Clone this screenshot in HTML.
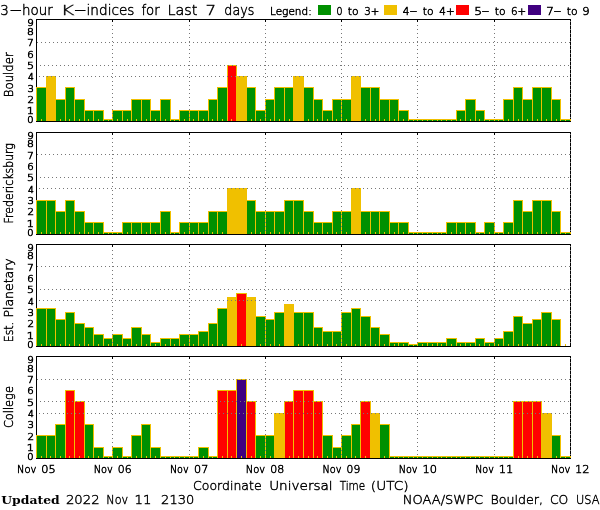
<!DOCTYPE html>
<html lang="en"><head><meta charset="utf-8"><title>3-hour K-indices for Last 7 days</title>
<style>html,body{margin:0;padding:0;background:#fff}svg{display:block}text{font-family:"DejaVu Sans Light","Liberation Sans",sans-serif;fill:#000;stroke:#000;stroke-width:.45px;white-space:pre}.t{font-size:13.7px}.m{font-size:12.8px}.s{font-size:8.2px;stroke-width:.55px}.l{font-size:10.3px;stroke-width:.5px}.x{font-size:10.5px;stroke-width:.5px}.y{font-size:12.6px}.u{font-family:"DejaVu Serif","Liberation Serif",serif;font-weight:bold;font-size:11.2px;stroke:none}</style></head><body>
<svg width="600" height="510" viewBox="0 0 600 510">
<rect width="600" height="510" fill="#fff"/>
<rect x="318" y="5" width="13" height="10" fill="#009000" shape-rendering="crispEdges"/>
<rect x="384" y="5" width="13" height="10" fill="#F0C000" shape-rendering="crispEdges"/>
<rect x="456" y="5" width="13" height="10" fill="#FF0000" shape-rendering="crispEdges"/>
<rect x="528" y="5" width="13" height="10" fill="#400080" shape-rendering="crispEdges"/>
<g shape-rendering="crispEdges"><rect x="36" y="19" width="1" height="103" fill="#000"/><rect x="36" y="19" width="535" height="1" fill="#000"/><rect x="570" y="19" width="1" height="103" fill="#000"/><rect x="36" y="87" width="11" height="34" fill="#F0C000"/><rect x="37" y="88" width="9" height="33" fill="#009000"/><rect x="41" y="119" width="1" height="2" fill="#F0C000"/><rect x="46" y="76" width="10" height="45" fill="#F0C000"/><rect x="47" y="77" width="8" height="44" fill="#F0C000"/><rect x="50" y="119" width="1" height="2" fill="#F0C000"/><rect x="55" y="99" width="11" height="22" fill="#F0C000"/><rect x="56" y="100" width="9" height="21" fill="#009000"/><rect x="60" y="119" width="1" height="2" fill="#F0C000"/><rect x="65" y="87" width="10" height="34" fill="#F0C000"/><rect x="66" y="88" width="8" height="33" fill="#009000"/><rect x="69" y="119" width="1" height="2" fill="#F0C000"/><rect x="74" y="99" width="11" height="22" fill="#F0C000"/><rect x="75" y="100" width="9" height="21" fill="#009000"/><rect x="79" y="119" width="1" height="2" fill="#F0C000"/><rect x="84" y="110" width="10" height="11" fill="#F0C000"/><rect x="85" y="111" width="8" height="10" fill="#009000"/><rect x="88" y="119" width="1" height="2" fill="#F0C000"/><rect x="93" y="110" width="11" height="11" fill="#F0C000"/><rect x="94" y="111" width="9" height="10" fill="#009000"/><rect x="98" y="119" width="1" height="2" fill="#F0C000"/><rect x="103" y="119" width="10" height="2" fill="#F0C000"/><rect x="104" y="120" width="8" height="1" fill="#009000"/><rect x="108" y="119" width="1" height="2" fill="#F0C000"/><rect x="112" y="110" width="11" height="11" fill="#F0C000"/><rect x="113" y="111" width="9" height="10" fill="#009000"/><rect x="117" y="119" width="1" height="2" fill="#F0C000"/><rect x="122" y="110" width="10" height="11" fill="#F0C000"/><rect x="123" y="111" width="8" height="10" fill="#009000"/><rect x="127" y="119" width="1" height="2" fill="#F0C000"/><rect x="131" y="99" width="11" height="22" fill="#F0C000"/><rect x="132" y="100" width="9" height="21" fill="#009000"/><rect x="136" y="119" width="1" height="2" fill="#F0C000"/><rect x="141" y="99" width="10" height="22" fill="#F0C000"/><rect x="142" y="100" width="8" height="21" fill="#009000"/><rect x="146" y="119" width="1" height="2" fill="#F0C000"/><rect x="150" y="110" width="11" height="11" fill="#F0C000"/><rect x="151" y="111" width="9" height="10" fill="#009000"/><rect x="155" y="119" width="1" height="2" fill="#F0C000"/><rect x="160" y="99" width="11" height="22" fill="#F0C000"/><rect x="161" y="100" width="9" height="21" fill="#009000"/><rect x="165" y="119" width="1" height="2" fill="#F0C000"/><rect x="170" y="119" width="10" height="2" fill="#F0C000"/><rect x="171" y="120" width="8" height="1" fill="#009000"/><rect x="174" y="119" width="1" height="2" fill="#F0C000"/><rect x="179" y="110" width="11" height="11" fill="#F0C000"/><rect x="180" y="111" width="9" height="10" fill="#009000"/><rect x="184" y="119" width="1" height="2" fill="#F0C000"/><rect x="189" y="110" width="10" height="11" fill="#F0C000"/><rect x="190" y="111" width="8" height="10" fill="#009000"/><rect x="193" y="119" width="1" height="2" fill="#F0C000"/><rect x="198" y="110" width="11" height="11" fill="#F0C000"/><rect x="199" y="111" width="9" height="10" fill="#009000"/><rect x="203" y="119" width="1" height="2" fill="#F0C000"/><rect x="208" y="99" width="10" height="22" fill="#F0C000"/><rect x="209" y="100" width="8" height="21" fill="#009000"/><rect x="212" y="119" width="1" height="2" fill="#F0C000"/><rect x="217" y="87" width="11" height="34" fill="#F0C000"/><rect x="218" y="88" width="9" height="33" fill="#009000"/><rect x="222" y="119" width="1" height="2" fill="#F0C000"/><rect x="227" y="65" width="10" height="56" fill="#F0C000"/><rect x="228" y="66" width="8" height="55" fill="#FF0000"/><rect x="231" y="119" width="1" height="2" fill="#F0C000"/><rect x="236" y="76" width="11" height="45" fill="#F0C000"/><rect x="237" y="77" width="9" height="44" fill="#F0C000"/><rect x="241" y="119" width="1" height="2" fill="#F0C000"/><rect x="246" y="87" width="10" height="34" fill="#F0C000"/><rect x="247" y="88" width="8" height="33" fill="#009000"/><rect x="251" y="119" width="1" height="2" fill="#F0C000"/><rect x="255" y="110" width="11" height="11" fill="#F0C000"/><rect x="256" y="111" width="9" height="10" fill="#009000"/><rect x="260" y="119" width="1" height="2" fill="#F0C000"/><rect x="265" y="99" width="10" height="22" fill="#F0C000"/><rect x="266" y="100" width="8" height="21" fill="#009000"/><rect x="270" y="119" width="1" height="2" fill="#F0C000"/><rect x="274" y="87" width="11" height="34" fill="#F0C000"/><rect x="275" y="88" width="9" height="33" fill="#009000"/><rect x="279" y="119" width="1" height="2" fill="#F0C000"/><rect x="284" y="87" width="10" height="34" fill="#F0C000"/><rect x="285" y="88" width="8" height="33" fill="#009000"/><rect x="289" y="119" width="1" height="2" fill="#F0C000"/><rect x="293" y="76" width="11" height="45" fill="#F0C000"/><rect x="294" y="77" width="9" height="44" fill="#F0C000"/><rect x="298" y="119" width="1" height="2" fill="#F0C000"/><rect x="303" y="87" width="11" height="34" fill="#F0C000"/><rect x="304" y="88" width="9" height="33" fill="#009000"/><rect x="308" y="119" width="1" height="2" fill="#F0C000"/><rect x="313" y="99" width="10" height="22" fill="#F0C000"/><rect x="314" y="100" width="8" height="21" fill="#009000"/><rect x="317" y="119" width="1" height="2" fill="#F0C000"/><rect x="322" y="110" width="11" height="11" fill="#F0C000"/><rect x="323" y="111" width="9" height="10" fill="#009000"/><rect x="327" y="119" width="1" height="2" fill="#F0C000"/><rect x="332" y="99" width="10" height="22" fill="#F0C000"/><rect x="333" y="100" width="8" height="21" fill="#009000"/><rect x="336" y="119" width="1" height="2" fill="#F0C000"/><rect x="341" y="99" width="11" height="22" fill="#F0C000"/><rect x="342" y="100" width="9" height="21" fill="#009000"/><rect x="346" y="119" width="1" height="2" fill="#F0C000"/><rect x="351" y="76" width="10" height="45" fill="#F0C000"/><rect x="352" y="77" width="8" height="44" fill="#F0C000"/><rect x="355" y="119" width="1" height="2" fill="#F0C000"/><rect x="360" y="87" width="11" height="34" fill="#F0C000"/><rect x="361" y="88" width="9" height="33" fill="#009000"/><rect x="365" y="119" width="1" height="2" fill="#F0C000"/><rect x="370" y="87" width="10" height="34" fill="#F0C000"/><rect x="371" y="88" width="8" height="33" fill="#009000"/><rect x="375" y="119" width="1" height="2" fill="#F0C000"/><rect x="379" y="99" width="11" height="22" fill="#F0C000"/><rect x="380" y="100" width="9" height="21" fill="#009000"/><rect x="384" y="119" width="1" height="2" fill="#F0C000"/><rect x="389" y="99" width="10" height="22" fill="#F0C000"/><rect x="390" y="100" width="8" height="21" fill="#009000"/><rect x="394" y="119" width="1" height="2" fill="#F0C000"/><rect x="398" y="110" width="11" height="11" fill="#F0C000"/><rect x="399" y="111" width="9" height="10" fill="#009000"/><rect x="403" y="119" width="1" height="2" fill="#F0C000"/><rect x="408" y="119" width="10" height="2" fill="#F0C000"/><rect x="409" y="120" width="8" height="1" fill="#009000"/><rect x="413" y="119" width="1" height="2" fill="#F0C000"/><rect x="417" y="119" width="11" height="2" fill="#F0C000"/><rect x="418" y="120" width="9" height="1" fill="#009000"/><rect x="422" y="119" width="1" height="2" fill="#F0C000"/><rect x="427" y="119" width="11" height="2" fill="#F0C000"/><rect x="428" y="120" width="9" height="1" fill="#009000"/><rect x="432" y="119" width="1" height="2" fill="#F0C000"/><rect x="437" y="119" width="10" height="2" fill="#F0C000"/><rect x="438" y="120" width="8" height="1" fill="#009000"/><rect x="441" y="119" width="1" height="2" fill="#F0C000"/><rect x="446" y="119" width="11" height="2" fill="#F0C000"/><rect x="447" y="120" width="9" height="1" fill="#009000"/><rect x="451" y="119" width="1" height="2" fill="#F0C000"/><rect x="456" y="110" width="10" height="11" fill="#F0C000"/><rect x="457" y="111" width="8" height="10" fill="#009000"/><rect x="460" y="119" width="1" height="2" fill="#F0C000"/><rect x="465" y="99" width="11" height="22" fill="#F0C000"/><rect x="466" y="100" width="9" height="21" fill="#009000"/><rect x="470" y="119" width="1" height="2" fill="#F0C000"/><rect x="475" y="110" width="10" height="11" fill="#F0C000"/><rect x="476" y="111" width="8" height="10" fill="#009000"/><rect x="479" y="119" width="1" height="2" fill="#F0C000"/><rect x="484" y="119" width="11" height="2" fill="#F0C000"/><rect x="485" y="120" width="9" height="1" fill="#009000"/><rect x="489" y="119" width="1" height="2" fill="#F0C000"/><rect x="494" y="119" width="10" height="2" fill="#F0C000"/><rect x="495" y="120" width="8" height="1" fill="#009000"/><rect x="498" y="119" width="1" height="2" fill="#F0C000"/><rect x="503" y="99" width="11" height="22" fill="#F0C000"/><rect x="504" y="100" width="9" height="21" fill="#009000"/><rect x="508" y="119" width="1" height="2" fill="#F0C000"/><rect x="513" y="87" width="10" height="34" fill="#F0C000"/><rect x="514" y="88" width="8" height="33" fill="#009000"/><rect x="518" y="119" width="1" height="2" fill="#F0C000"/><rect x="522" y="99" width="11" height="22" fill="#F0C000"/><rect x="523" y="100" width="9" height="21" fill="#009000"/><rect x="527" y="119" width="1" height="2" fill="#F0C000"/><rect x="532" y="87" width="10" height="34" fill="#F0C000"/><rect x="533" y="88" width="8" height="33" fill="#009000"/><rect x="537" y="119" width="1" height="2" fill="#F0C000"/><rect x="541" y="87" width="11" height="34" fill="#F0C000"/><rect x="542" y="88" width="9" height="33" fill="#009000"/><rect x="546" y="119" width="1" height="2" fill="#F0C000"/><rect x="551" y="99" width="10" height="22" fill="#F0C000"/><rect x="552" y="100" width="8" height="21" fill="#009000"/><rect x="556" y="119" width="1" height="2" fill="#F0C000"/><rect x="560" y="119" width="11" height="2" fill="#F0C000"/><rect x="561" y="120" width="9" height="1" fill="#009000"/><rect x="565" y="119" width="1" height="2" fill="#F0C000"/><rect x="36" y="121" width="535" height="1" fill="#000"/><path d="M37 42h1v1h-1zM41 42h1v1h-1zM45 42h1v1h-1zM49 42h1v1h-1zM53 42h1v1h-1zM57 42h1v1h-1zM61 42h1v1h-1zM65 42h1v1h-1zM69 42h1v1h-1zM73 42h1v1h-1zM77 42h1v1h-1zM81 42h1v1h-1zM85 42h1v1h-1zM89 42h1v1h-1zM93 42h1v1h-1zM97 42h1v1h-1zM101 42h1v1h-1zM105 42h1v1h-1zM109 42h1v1h-1zM113 42h1v1h-1zM117 42h1v1h-1zM121 42h1v1h-1zM125 42h1v1h-1zM129 42h1v1h-1zM133 42h1v1h-1zM137 42h1v1h-1zM141 42h1v1h-1zM145 42h1v1h-1zM149 42h1v1h-1zM153 42h1v1h-1zM157 42h1v1h-1zM161 42h1v1h-1zM165 42h1v1h-1zM169 42h1v1h-1zM173 42h1v1h-1zM177 42h1v1h-1zM181 42h1v1h-1zM185 42h1v1h-1zM189 42h1v1h-1zM193 42h1v1h-1zM197 42h1v1h-1zM201 42h1v1h-1zM205 42h1v1h-1zM209 42h1v1h-1zM213 42h1v1h-1zM217 42h1v1h-1zM221 42h1v1h-1zM225 42h1v1h-1zM229 42h1v1h-1zM233 42h1v1h-1zM237 42h1v1h-1zM241 42h1v1h-1zM245 42h1v1h-1zM249 42h1v1h-1zM253 42h1v1h-1zM257 42h1v1h-1zM261 42h1v1h-1zM265 42h1v1h-1zM269 42h1v1h-1zM273 42h1v1h-1zM277 42h1v1h-1zM281 42h1v1h-1zM285 42h1v1h-1zM289 42h1v1h-1zM293 42h1v1h-1zM297 42h1v1h-1zM301 42h1v1h-1zM305 42h1v1h-1zM309 42h1v1h-1zM313 42h1v1h-1zM317 42h1v1h-1zM321 42h1v1h-1zM325 42h1v1h-1zM329 42h1v1h-1zM333 42h1v1h-1zM337 42h1v1h-1zM341 42h1v1h-1zM345 42h1v1h-1zM349 42h1v1h-1zM353 42h1v1h-1zM357 42h1v1h-1zM361 42h1v1h-1zM365 42h1v1h-1zM369 42h1v1h-1zM373 42h1v1h-1zM377 42h1v1h-1zM381 42h1v1h-1zM385 42h1v1h-1zM389 42h1v1h-1zM393 42h1v1h-1zM397 42h1v1h-1zM401 42h1v1h-1zM405 42h1v1h-1zM409 42h1v1h-1zM413 42h1v1h-1zM417 42h1v1h-1zM421 42h1v1h-1zM425 42h1v1h-1zM429 42h1v1h-1zM433 42h1v1h-1zM437 42h1v1h-1zM441 42h1v1h-1zM445 42h1v1h-1zM449 42h1v1h-1zM453 42h1v1h-1zM457 42h1v1h-1zM461 42h1v1h-1zM465 42h1v1h-1zM469 42h1v1h-1zM473 42h1v1h-1zM477 42h1v1h-1zM481 42h1v1h-1zM485 42h1v1h-1zM489 42h1v1h-1zM493 42h1v1h-1zM497 42h1v1h-1zM501 42h1v1h-1zM505 42h1v1h-1zM509 42h1v1h-1zM513 42h1v1h-1zM517 42h1v1h-1zM521 42h1v1h-1zM525 42h1v1h-1zM529 42h1v1h-1zM533 42h1v1h-1zM537 42h1v1h-1zM541 42h1v1h-1zM545 42h1v1h-1zM549 42h1v1h-1zM553 42h1v1h-1zM557 42h1v1h-1zM561 42h1v1h-1zM565 42h1v1h-1zM569 42h1v1h-1z" fill="#777"/><path d="M40 65h1v1h-1zM44 65h1v1h-1zM48 65h1v1h-1zM52 65h1v1h-1zM56 65h1v1h-1zM60 65h1v1h-1zM64 65h1v1h-1zM68 65h1v1h-1zM72 65h1v1h-1zM76 65h1v1h-1zM80 65h1v1h-1zM84 65h1v1h-1zM88 65h1v1h-1zM92 65h1v1h-1zM96 65h1v1h-1zM100 65h1v1h-1zM104 65h1v1h-1zM108 65h1v1h-1zM112 65h1v1h-1zM116 65h1v1h-1zM120 65h1v1h-1zM124 65h1v1h-1zM128 65h1v1h-1zM132 65h1v1h-1zM136 65h1v1h-1zM140 65h1v1h-1zM144 65h1v1h-1zM148 65h1v1h-1zM152 65h1v1h-1zM156 65h1v1h-1zM160 65h1v1h-1zM164 65h1v1h-1zM168 65h1v1h-1zM172 65h1v1h-1zM176 65h1v1h-1zM180 65h1v1h-1zM184 65h1v1h-1zM188 65h1v1h-1zM192 65h1v1h-1zM196 65h1v1h-1zM200 65h1v1h-1zM204 65h1v1h-1zM208 65h1v1h-1zM212 65h1v1h-1zM216 65h1v1h-1zM220 65h1v1h-1zM224 65h1v1h-1zM228 65h1v1h-1zM232 65h1v1h-1zM236 65h1v1h-1zM240 65h1v1h-1zM244 65h1v1h-1zM248 65h1v1h-1zM252 65h1v1h-1zM256 65h1v1h-1zM260 65h1v1h-1zM264 65h1v1h-1zM268 65h1v1h-1zM272 65h1v1h-1zM276 65h1v1h-1zM280 65h1v1h-1zM284 65h1v1h-1zM288 65h1v1h-1zM292 65h1v1h-1zM296 65h1v1h-1zM300 65h1v1h-1zM304 65h1v1h-1zM308 65h1v1h-1zM312 65h1v1h-1zM316 65h1v1h-1zM320 65h1v1h-1zM324 65h1v1h-1zM328 65h1v1h-1zM332 65h1v1h-1zM336 65h1v1h-1zM340 65h1v1h-1zM344 65h1v1h-1zM348 65h1v1h-1zM352 65h1v1h-1zM356 65h1v1h-1zM360 65h1v1h-1zM364 65h1v1h-1zM368 65h1v1h-1zM372 65h1v1h-1zM376 65h1v1h-1zM380 65h1v1h-1zM384 65h1v1h-1zM388 65h1v1h-1zM392 65h1v1h-1zM396 65h1v1h-1zM400 65h1v1h-1zM404 65h1v1h-1zM408 65h1v1h-1zM412 65h1v1h-1zM416 65h1v1h-1zM420 65h1v1h-1zM424 65h1v1h-1zM428 65h1v1h-1zM432 65h1v1h-1zM436 65h1v1h-1zM440 65h1v1h-1zM444 65h1v1h-1zM448 65h1v1h-1zM452 65h1v1h-1zM456 65h1v1h-1zM460 65h1v1h-1zM464 65h1v1h-1zM468 65h1v1h-1zM472 65h1v1h-1zM476 65h1v1h-1zM480 65h1v1h-1zM484 65h1v1h-1zM488 65h1v1h-1zM492 65h1v1h-1zM496 65h1v1h-1zM500 65h1v1h-1zM504 65h1v1h-1zM508 65h1v1h-1zM512 65h1v1h-1zM516 65h1v1h-1zM520 65h1v1h-1zM524 65h1v1h-1zM528 65h1v1h-1zM532 65h1v1h-1zM536 65h1v1h-1zM540 65h1v1h-1zM544 65h1v1h-1zM548 65h1v1h-1zM552 65h1v1h-1zM556 65h1v1h-1zM560 65h1v1h-1zM564 65h1v1h-1zM568 65h1v1h-1z" fill="#777"/><path d="M39 76h1v1h-1zM43 76h1v1h-1zM47 76h1v1h-1zM51 76h1v1h-1zM55 76h1v1h-1zM59 76h1v1h-1zM63 76h1v1h-1zM67 76h1v1h-1zM71 76h1v1h-1zM75 76h1v1h-1zM79 76h1v1h-1zM83 76h1v1h-1zM87 76h1v1h-1zM91 76h1v1h-1zM95 76h1v1h-1zM99 76h1v1h-1zM103 76h1v1h-1zM107 76h1v1h-1zM111 76h1v1h-1zM115 76h1v1h-1zM119 76h1v1h-1zM123 76h1v1h-1zM127 76h1v1h-1zM131 76h1v1h-1zM135 76h1v1h-1zM139 76h1v1h-1zM143 76h1v1h-1zM147 76h1v1h-1zM151 76h1v1h-1zM155 76h1v1h-1zM159 76h1v1h-1zM163 76h1v1h-1zM167 76h1v1h-1zM171 76h1v1h-1zM175 76h1v1h-1zM179 76h1v1h-1zM183 76h1v1h-1zM187 76h1v1h-1zM191 76h1v1h-1zM195 76h1v1h-1zM199 76h1v1h-1zM203 76h1v1h-1zM207 76h1v1h-1zM211 76h1v1h-1zM215 76h1v1h-1zM219 76h1v1h-1zM223 76h1v1h-1zM227 76h1v1h-1zM231 76h1v1h-1zM235 76h1v1h-1zM239 76h1v1h-1zM243 76h1v1h-1zM247 76h1v1h-1zM251 76h1v1h-1zM255 76h1v1h-1zM259 76h1v1h-1zM263 76h1v1h-1zM267 76h1v1h-1zM271 76h1v1h-1zM275 76h1v1h-1zM279 76h1v1h-1zM283 76h1v1h-1zM287 76h1v1h-1zM291 76h1v1h-1zM295 76h1v1h-1zM299 76h1v1h-1zM303 76h1v1h-1zM307 76h1v1h-1zM311 76h1v1h-1zM315 76h1v1h-1zM319 76h1v1h-1zM323 76h1v1h-1zM327 76h1v1h-1zM331 76h1v1h-1zM335 76h1v1h-1zM339 76h1v1h-1zM343 76h1v1h-1zM347 76h1v1h-1zM351 76h1v1h-1zM355 76h1v1h-1zM359 76h1v1h-1zM363 76h1v1h-1zM367 76h1v1h-1zM371 76h1v1h-1zM375 76h1v1h-1zM379 76h1v1h-1zM383 76h1v1h-1zM387 76h1v1h-1zM391 76h1v1h-1zM395 76h1v1h-1zM399 76h1v1h-1zM403 76h1v1h-1zM407 76h1v1h-1zM411 76h1v1h-1zM415 76h1v1h-1zM419 76h1v1h-1zM423 76h1v1h-1zM427 76h1v1h-1zM431 76h1v1h-1zM435 76h1v1h-1zM439 76h1v1h-1zM443 76h1v1h-1zM447 76h1v1h-1zM451 76h1v1h-1zM455 76h1v1h-1zM459 76h1v1h-1zM463 76h1v1h-1zM467 76h1v1h-1zM471 76h1v1h-1zM475 76h1v1h-1zM479 76h1v1h-1zM483 76h1v1h-1zM487 76h1v1h-1zM491 76h1v1h-1zM495 76h1v1h-1zM499 76h1v1h-1zM503 76h1v1h-1zM507 76h1v1h-1zM511 76h1v1h-1zM515 76h1v1h-1zM519 76h1v1h-1zM523 76h1v1h-1zM527 76h1v1h-1zM531 76h1v1h-1zM535 76h1v1h-1zM539 76h1v1h-1zM543 76h1v1h-1zM547 76h1v1h-1zM551 76h1v1h-1zM555 76h1v1h-1zM559 76h1v1h-1zM563 76h1v1h-1zM567 76h1v1h-1z" fill="#777"/><path d="M112 21h1v1h-1zM112 25h1v1h-1zM112 29h1v1h-1zM112 33h1v1h-1zM112 37h1v1h-1zM112 41h1v1h-1zM112 45h1v1h-1zM112 49h1v1h-1zM112 53h1v1h-1zM112 57h1v1h-1zM112 61h1v1h-1zM112 65h1v1h-1zM112 69h1v1h-1zM112 73h1v1h-1zM112 77h1v1h-1zM112 81h1v1h-1zM112 85h1v1h-1zM112 89h1v1h-1zM112 93h1v1h-1zM112 97h1v1h-1zM112 101h1v1h-1zM112 105h1v1h-1zM112 109h1v1h-1zM112 113h1v1h-1zM112 117h1v1h-1z" fill="#777"/><rect x="112" y="20" width="1" height="2" fill="#000"/><path d="M189 21h1v1h-1zM189 25h1v1h-1zM189 29h1v1h-1zM189 33h1v1h-1zM189 37h1v1h-1zM189 41h1v1h-1zM189 45h1v1h-1zM189 49h1v1h-1zM189 53h1v1h-1zM189 57h1v1h-1zM189 61h1v1h-1zM189 65h1v1h-1zM189 69h1v1h-1zM189 73h1v1h-1zM189 77h1v1h-1zM189 81h1v1h-1zM189 85h1v1h-1zM189 89h1v1h-1zM189 93h1v1h-1zM189 97h1v1h-1zM189 101h1v1h-1zM189 105h1v1h-1zM189 109h1v1h-1zM189 113h1v1h-1zM189 117h1v1h-1z" fill="#777"/><rect x="189" y="20" width="1" height="2" fill="#000"/><path d="M265 21h1v1h-1zM265 25h1v1h-1zM265 29h1v1h-1zM265 33h1v1h-1zM265 37h1v1h-1zM265 41h1v1h-1zM265 45h1v1h-1zM265 49h1v1h-1zM265 53h1v1h-1zM265 57h1v1h-1zM265 61h1v1h-1zM265 65h1v1h-1zM265 69h1v1h-1zM265 73h1v1h-1zM265 77h1v1h-1zM265 81h1v1h-1zM265 85h1v1h-1zM265 89h1v1h-1zM265 93h1v1h-1zM265 97h1v1h-1zM265 101h1v1h-1zM265 105h1v1h-1zM265 109h1v1h-1zM265 113h1v1h-1zM265 117h1v1h-1z" fill="#777"/><rect x="265" y="20" width="1" height="2" fill="#000"/><path d="M341 21h1v1h-1zM341 25h1v1h-1zM341 29h1v1h-1zM341 33h1v1h-1zM341 37h1v1h-1zM341 41h1v1h-1zM341 45h1v1h-1zM341 49h1v1h-1zM341 53h1v1h-1zM341 57h1v1h-1zM341 61h1v1h-1zM341 65h1v1h-1zM341 69h1v1h-1zM341 73h1v1h-1zM341 77h1v1h-1zM341 81h1v1h-1zM341 85h1v1h-1zM341 89h1v1h-1zM341 93h1v1h-1zM341 97h1v1h-1zM341 101h1v1h-1zM341 105h1v1h-1zM341 109h1v1h-1zM341 113h1v1h-1zM341 117h1v1h-1z" fill="#777"/><rect x="341" y="20" width="1" height="2" fill="#000"/><path d="M417 21h1v1h-1zM417 25h1v1h-1zM417 29h1v1h-1zM417 33h1v1h-1zM417 37h1v1h-1zM417 41h1v1h-1zM417 45h1v1h-1zM417 49h1v1h-1zM417 53h1v1h-1zM417 57h1v1h-1zM417 61h1v1h-1zM417 65h1v1h-1zM417 69h1v1h-1zM417 73h1v1h-1zM417 77h1v1h-1zM417 81h1v1h-1zM417 85h1v1h-1zM417 89h1v1h-1zM417 93h1v1h-1zM417 97h1v1h-1zM417 101h1v1h-1zM417 105h1v1h-1zM417 109h1v1h-1zM417 113h1v1h-1zM417 117h1v1h-1z" fill="#777"/><rect x="417" y="20" width="1" height="2" fill="#000"/><path d="M494 21h1v1h-1zM494 25h1v1h-1zM494 29h1v1h-1zM494 33h1v1h-1zM494 37h1v1h-1zM494 41h1v1h-1zM494 45h1v1h-1zM494 49h1v1h-1zM494 53h1v1h-1zM494 57h1v1h-1zM494 61h1v1h-1zM494 65h1v1h-1zM494 69h1v1h-1zM494 73h1v1h-1zM494 77h1v1h-1zM494 81h1v1h-1zM494 85h1v1h-1zM494 89h1v1h-1zM494 93h1v1h-1zM494 97h1v1h-1zM494 101h1v1h-1zM494 105h1v1h-1zM494 109h1v1h-1zM494 113h1v1h-1zM494 117h1v1h-1z" fill="#777"/><rect x="494" y="20" width="1" height="2" fill="#000"/><path d="M570 21h1v1h-1zM570 25h1v1h-1zM570 29h1v1h-1zM570 33h1v1h-1zM570 37h1v1h-1zM570 41h1v1h-1zM570 45h1v1h-1zM570 49h1v1h-1zM570 53h1v1h-1zM570 57h1v1h-1zM570 61h1v1h-1zM570 65h1v1h-1zM570 69h1v1h-1zM570 73h1v1h-1zM570 77h1v1h-1zM570 81h1v1h-1zM570 85h1v1h-1zM570 89h1v1h-1zM570 93h1v1h-1zM570 97h1v1h-1zM570 101h1v1h-1zM570 105h1v1h-1zM570 109h1v1h-1zM570 113h1v1h-1zM570 117h1v1h-1z" fill="#777"/></g>
<g shape-rendering="crispEdges"><rect x="36" y="132" width="1" height="103" fill="#000"/><rect x="36" y="132" width="535" height="1" fill="#000"/><rect x="570" y="132" width="1" height="103" fill="#000"/><rect x="36" y="200" width="11" height="34" fill="#F0C000"/><rect x="37" y="201" width="9" height="33" fill="#009000"/><rect x="41" y="232" width="1" height="2" fill="#F0C000"/><rect x="46" y="200" width="10" height="34" fill="#F0C000"/><rect x="47" y="201" width="8" height="33" fill="#009000"/><rect x="50" y="232" width="1" height="2" fill="#F0C000"/><rect x="55" y="211" width="11" height="23" fill="#F0C000"/><rect x="56" y="212" width="9" height="22" fill="#009000"/><rect x="60" y="232" width="1" height="2" fill="#F0C000"/><rect x="65" y="200" width="10" height="34" fill="#F0C000"/><rect x="66" y="201" width="8" height="33" fill="#009000"/><rect x="69" y="232" width="1" height="2" fill="#F0C000"/><rect x="74" y="211" width="11" height="23" fill="#F0C000"/><rect x="75" y="212" width="9" height="22" fill="#009000"/><rect x="79" y="232" width="1" height="2" fill="#F0C000"/><rect x="84" y="222" width="10" height="12" fill="#F0C000"/><rect x="85" y="223" width="8" height="11" fill="#009000"/><rect x="88" y="232" width="1" height="2" fill="#F0C000"/><rect x="93" y="222" width="11" height="12" fill="#F0C000"/><rect x="94" y="223" width="9" height="11" fill="#009000"/><rect x="98" y="232" width="1" height="2" fill="#F0C000"/><rect x="103" y="232" width="10" height="2" fill="#F0C000"/><rect x="104" y="233" width="8" height="1" fill="#009000"/><rect x="108" y="232" width="1" height="2" fill="#F0C000"/><rect x="112" y="232" width="11" height="2" fill="#F0C000"/><rect x="113" y="233" width="9" height="1" fill="#009000"/><rect x="117" y="232" width="1" height="2" fill="#F0C000"/><rect x="122" y="222" width="10" height="12" fill="#F0C000"/><rect x="123" y="223" width="8" height="11" fill="#009000"/><rect x="127" y="232" width="1" height="2" fill="#F0C000"/><rect x="131" y="222" width="11" height="12" fill="#F0C000"/><rect x="132" y="223" width="9" height="11" fill="#009000"/><rect x="136" y="232" width="1" height="2" fill="#F0C000"/><rect x="141" y="222" width="10" height="12" fill="#F0C000"/><rect x="142" y="223" width="8" height="11" fill="#009000"/><rect x="146" y="232" width="1" height="2" fill="#F0C000"/><rect x="150" y="222" width="11" height="12" fill="#F0C000"/><rect x="151" y="223" width="9" height="11" fill="#009000"/><rect x="155" y="232" width="1" height="2" fill="#F0C000"/><rect x="160" y="211" width="11" height="23" fill="#F0C000"/><rect x="161" y="212" width="9" height="22" fill="#009000"/><rect x="165" y="232" width="1" height="2" fill="#F0C000"/><rect x="170" y="232" width="10" height="2" fill="#F0C000"/><rect x="171" y="233" width="8" height="1" fill="#009000"/><rect x="174" y="232" width="1" height="2" fill="#F0C000"/><rect x="179" y="222" width="11" height="12" fill="#F0C000"/><rect x="180" y="223" width="9" height="11" fill="#009000"/><rect x="184" y="232" width="1" height="2" fill="#F0C000"/><rect x="189" y="222" width="10" height="12" fill="#F0C000"/><rect x="190" y="223" width="8" height="11" fill="#009000"/><rect x="193" y="232" width="1" height="2" fill="#F0C000"/><rect x="198" y="222" width="11" height="12" fill="#F0C000"/><rect x="199" y="223" width="9" height="11" fill="#009000"/><rect x="203" y="232" width="1" height="2" fill="#F0C000"/><rect x="208" y="211" width="10" height="23" fill="#F0C000"/><rect x="209" y="212" width="8" height="22" fill="#009000"/><rect x="212" y="232" width="1" height="2" fill="#F0C000"/><rect x="217" y="211" width="11" height="23" fill="#F0C000"/><rect x="218" y="212" width="9" height="22" fill="#009000"/><rect x="222" y="232" width="1" height="2" fill="#F0C000"/><rect x="227" y="188" width="10" height="46" fill="#F0C000"/><rect x="228" y="189" width="8" height="45" fill="#F0C000"/><rect x="231" y="232" width="1" height="2" fill="#F0C000"/><rect x="236" y="188" width="11" height="46" fill="#F0C000"/><rect x="237" y="189" width="9" height="45" fill="#F0C000"/><rect x="241" y="232" width="1" height="2" fill="#F0C000"/><rect x="246" y="200" width="10" height="34" fill="#F0C000"/><rect x="247" y="201" width="8" height="33" fill="#009000"/><rect x="251" y="232" width="1" height="2" fill="#F0C000"/><rect x="255" y="211" width="11" height="23" fill="#F0C000"/><rect x="256" y="212" width="9" height="22" fill="#009000"/><rect x="260" y="232" width="1" height="2" fill="#F0C000"/><rect x="265" y="211" width="10" height="23" fill="#F0C000"/><rect x="266" y="212" width="8" height="22" fill="#009000"/><rect x="270" y="232" width="1" height="2" fill="#F0C000"/><rect x="274" y="211" width="11" height="23" fill="#F0C000"/><rect x="275" y="212" width="9" height="22" fill="#009000"/><rect x="279" y="232" width="1" height="2" fill="#F0C000"/><rect x="284" y="200" width="10" height="34" fill="#F0C000"/><rect x="285" y="201" width="8" height="33" fill="#009000"/><rect x="289" y="232" width="1" height="2" fill="#F0C000"/><rect x="293" y="200" width="11" height="34" fill="#F0C000"/><rect x="294" y="201" width="9" height="33" fill="#009000"/><rect x="298" y="232" width="1" height="2" fill="#F0C000"/><rect x="303" y="211" width="11" height="23" fill="#F0C000"/><rect x="304" y="212" width="9" height="22" fill="#009000"/><rect x="308" y="232" width="1" height="2" fill="#F0C000"/><rect x="313" y="222" width="10" height="12" fill="#F0C000"/><rect x="314" y="223" width="8" height="11" fill="#009000"/><rect x="317" y="232" width="1" height="2" fill="#F0C000"/><rect x="322" y="222" width="11" height="12" fill="#F0C000"/><rect x="323" y="223" width="9" height="11" fill="#009000"/><rect x="327" y="232" width="1" height="2" fill="#F0C000"/><rect x="332" y="211" width="10" height="23" fill="#F0C000"/><rect x="333" y="212" width="8" height="22" fill="#009000"/><rect x="336" y="232" width="1" height="2" fill="#F0C000"/><rect x="341" y="211" width="11" height="23" fill="#F0C000"/><rect x="342" y="212" width="9" height="22" fill="#009000"/><rect x="346" y="232" width="1" height="2" fill="#F0C000"/><rect x="351" y="188" width="10" height="46" fill="#F0C000"/><rect x="352" y="189" width="8" height="45" fill="#F0C000"/><rect x="355" y="232" width="1" height="2" fill="#F0C000"/><rect x="360" y="211" width="11" height="23" fill="#F0C000"/><rect x="361" y="212" width="9" height="22" fill="#009000"/><rect x="365" y="232" width="1" height="2" fill="#F0C000"/><rect x="370" y="211" width="10" height="23" fill="#F0C000"/><rect x="371" y="212" width="8" height="22" fill="#009000"/><rect x="375" y="232" width="1" height="2" fill="#F0C000"/><rect x="379" y="211" width="11" height="23" fill="#F0C000"/><rect x="380" y="212" width="9" height="22" fill="#009000"/><rect x="384" y="232" width="1" height="2" fill="#F0C000"/><rect x="389" y="222" width="10" height="12" fill="#F0C000"/><rect x="390" y="223" width="8" height="11" fill="#009000"/><rect x="394" y="232" width="1" height="2" fill="#F0C000"/><rect x="398" y="222" width="11" height="12" fill="#F0C000"/><rect x="399" y="223" width="9" height="11" fill="#009000"/><rect x="403" y="232" width="1" height="2" fill="#F0C000"/><rect x="408" y="232" width="10" height="2" fill="#F0C000"/><rect x="409" y="233" width="8" height="1" fill="#009000"/><rect x="413" y="232" width="1" height="2" fill="#F0C000"/><rect x="417" y="232" width="11" height="2" fill="#F0C000"/><rect x="418" y="233" width="9" height="1" fill="#009000"/><rect x="422" y="232" width="1" height="2" fill="#F0C000"/><rect x="427" y="232" width="11" height="2" fill="#F0C000"/><rect x="428" y="233" width="9" height="1" fill="#009000"/><rect x="432" y="232" width="1" height="2" fill="#F0C000"/><rect x="437" y="232" width="10" height="2" fill="#F0C000"/><rect x="438" y="233" width="8" height="1" fill="#009000"/><rect x="441" y="232" width="1" height="2" fill="#F0C000"/><rect x="446" y="222" width="11" height="12" fill="#F0C000"/><rect x="447" y="223" width="9" height="11" fill="#009000"/><rect x="451" y="232" width="1" height="2" fill="#F0C000"/><rect x="456" y="222" width="10" height="12" fill="#F0C000"/><rect x="457" y="223" width="8" height="11" fill="#009000"/><rect x="460" y="232" width="1" height="2" fill="#F0C000"/><rect x="465" y="222" width="11" height="12" fill="#F0C000"/><rect x="466" y="223" width="9" height="11" fill="#009000"/><rect x="470" y="232" width="1" height="2" fill="#F0C000"/><rect x="475" y="232" width="10" height="2" fill="#F0C000"/><rect x="476" y="233" width="8" height="1" fill="#009000"/><rect x="479" y="232" width="1" height="2" fill="#F0C000"/><rect x="484" y="222" width="11" height="12" fill="#F0C000"/><rect x="485" y="223" width="9" height="11" fill="#009000"/><rect x="489" y="232" width="1" height="2" fill="#F0C000"/><rect x="494" y="232" width="10" height="2" fill="#F0C000"/><rect x="495" y="233" width="8" height="1" fill="#009000"/><rect x="498" y="232" width="1" height="2" fill="#F0C000"/><rect x="503" y="222" width="11" height="12" fill="#F0C000"/><rect x="504" y="223" width="9" height="11" fill="#009000"/><rect x="508" y="232" width="1" height="2" fill="#F0C000"/><rect x="513" y="200" width="10" height="34" fill="#F0C000"/><rect x="514" y="201" width="8" height="33" fill="#009000"/><rect x="518" y="232" width="1" height="2" fill="#F0C000"/><rect x="522" y="211" width="11" height="23" fill="#F0C000"/><rect x="523" y="212" width="9" height="22" fill="#009000"/><rect x="527" y="232" width="1" height="2" fill="#F0C000"/><rect x="532" y="200" width="10" height="34" fill="#F0C000"/><rect x="533" y="201" width="8" height="33" fill="#009000"/><rect x="537" y="232" width="1" height="2" fill="#F0C000"/><rect x="541" y="200" width="11" height="34" fill="#F0C000"/><rect x="542" y="201" width="9" height="33" fill="#009000"/><rect x="546" y="232" width="1" height="2" fill="#F0C000"/><rect x="551" y="211" width="10" height="23" fill="#F0C000"/><rect x="552" y="212" width="8" height="22" fill="#009000"/><rect x="556" y="232" width="1" height="2" fill="#F0C000"/><rect x="560" y="232" width="11" height="2" fill="#F0C000"/><rect x="561" y="233" width="9" height="1" fill="#009000"/><rect x="565" y="232" width="1" height="2" fill="#F0C000"/><rect x="36" y="234" width="535" height="1" fill="#000"/><path d="M37 154h1v1h-1zM41 154h1v1h-1zM45 154h1v1h-1zM49 154h1v1h-1zM53 154h1v1h-1zM57 154h1v1h-1zM61 154h1v1h-1zM65 154h1v1h-1zM69 154h1v1h-1zM73 154h1v1h-1zM77 154h1v1h-1zM81 154h1v1h-1zM85 154h1v1h-1zM89 154h1v1h-1zM93 154h1v1h-1zM97 154h1v1h-1zM101 154h1v1h-1zM105 154h1v1h-1zM109 154h1v1h-1zM113 154h1v1h-1zM117 154h1v1h-1zM121 154h1v1h-1zM125 154h1v1h-1zM129 154h1v1h-1zM133 154h1v1h-1zM137 154h1v1h-1zM141 154h1v1h-1zM145 154h1v1h-1zM149 154h1v1h-1zM153 154h1v1h-1zM157 154h1v1h-1zM161 154h1v1h-1zM165 154h1v1h-1zM169 154h1v1h-1zM173 154h1v1h-1zM177 154h1v1h-1zM181 154h1v1h-1zM185 154h1v1h-1zM189 154h1v1h-1zM193 154h1v1h-1zM197 154h1v1h-1zM201 154h1v1h-1zM205 154h1v1h-1zM209 154h1v1h-1zM213 154h1v1h-1zM217 154h1v1h-1zM221 154h1v1h-1zM225 154h1v1h-1zM229 154h1v1h-1zM233 154h1v1h-1zM237 154h1v1h-1zM241 154h1v1h-1zM245 154h1v1h-1zM249 154h1v1h-1zM253 154h1v1h-1zM257 154h1v1h-1zM261 154h1v1h-1zM265 154h1v1h-1zM269 154h1v1h-1zM273 154h1v1h-1zM277 154h1v1h-1zM281 154h1v1h-1zM285 154h1v1h-1zM289 154h1v1h-1zM293 154h1v1h-1zM297 154h1v1h-1zM301 154h1v1h-1zM305 154h1v1h-1zM309 154h1v1h-1zM313 154h1v1h-1zM317 154h1v1h-1zM321 154h1v1h-1zM325 154h1v1h-1zM329 154h1v1h-1zM333 154h1v1h-1zM337 154h1v1h-1zM341 154h1v1h-1zM345 154h1v1h-1zM349 154h1v1h-1zM353 154h1v1h-1zM357 154h1v1h-1zM361 154h1v1h-1zM365 154h1v1h-1zM369 154h1v1h-1zM373 154h1v1h-1zM377 154h1v1h-1zM381 154h1v1h-1zM385 154h1v1h-1zM389 154h1v1h-1zM393 154h1v1h-1zM397 154h1v1h-1zM401 154h1v1h-1zM405 154h1v1h-1zM409 154h1v1h-1zM413 154h1v1h-1zM417 154h1v1h-1zM421 154h1v1h-1zM425 154h1v1h-1zM429 154h1v1h-1zM433 154h1v1h-1zM437 154h1v1h-1zM441 154h1v1h-1zM445 154h1v1h-1zM449 154h1v1h-1zM453 154h1v1h-1zM457 154h1v1h-1zM461 154h1v1h-1zM465 154h1v1h-1zM469 154h1v1h-1zM473 154h1v1h-1zM477 154h1v1h-1zM481 154h1v1h-1zM485 154h1v1h-1zM489 154h1v1h-1zM493 154h1v1h-1zM497 154h1v1h-1zM501 154h1v1h-1zM505 154h1v1h-1zM509 154h1v1h-1zM513 154h1v1h-1zM517 154h1v1h-1zM521 154h1v1h-1zM525 154h1v1h-1zM529 154h1v1h-1zM533 154h1v1h-1zM537 154h1v1h-1zM541 154h1v1h-1zM545 154h1v1h-1zM549 154h1v1h-1zM553 154h1v1h-1zM557 154h1v1h-1zM561 154h1v1h-1zM565 154h1v1h-1zM569 154h1v1h-1z" fill="#777"/><path d="M40 177h1v1h-1zM44 177h1v1h-1zM48 177h1v1h-1zM52 177h1v1h-1zM56 177h1v1h-1zM60 177h1v1h-1zM64 177h1v1h-1zM68 177h1v1h-1zM72 177h1v1h-1zM76 177h1v1h-1zM80 177h1v1h-1zM84 177h1v1h-1zM88 177h1v1h-1zM92 177h1v1h-1zM96 177h1v1h-1zM100 177h1v1h-1zM104 177h1v1h-1zM108 177h1v1h-1zM112 177h1v1h-1zM116 177h1v1h-1zM120 177h1v1h-1zM124 177h1v1h-1zM128 177h1v1h-1zM132 177h1v1h-1zM136 177h1v1h-1zM140 177h1v1h-1zM144 177h1v1h-1zM148 177h1v1h-1zM152 177h1v1h-1zM156 177h1v1h-1zM160 177h1v1h-1zM164 177h1v1h-1zM168 177h1v1h-1zM172 177h1v1h-1zM176 177h1v1h-1zM180 177h1v1h-1zM184 177h1v1h-1zM188 177h1v1h-1zM192 177h1v1h-1zM196 177h1v1h-1zM200 177h1v1h-1zM204 177h1v1h-1zM208 177h1v1h-1zM212 177h1v1h-1zM216 177h1v1h-1zM220 177h1v1h-1zM224 177h1v1h-1zM228 177h1v1h-1zM232 177h1v1h-1zM236 177h1v1h-1zM240 177h1v1h-1zM244 177h1v1h-1zM248 177h1v1h-1zM252 177h1v1h-1zM256 177h1v1h-1zM260 177h1v1h-1zM264 177h1v1h-1zM268 177h1v1h-1zM272 177h1v1h-1zM276 177h1v1h-1zM280 177h1v1h-1zM284 177h1v1h-1zM288 177h1v1h-1zM292 177h1v1h-1zM296 177h1v1h-1zM300 177h1v1h-1zM304 177h1v1h-1zM308 177h1v1h-1zM312 177h1v1h-1zM316 177h1v1h-1zM320 177h1v1h-1zM324 177h1v1h-1zM328 177h1v1h-1zM332 177h1v1h-1zM336 177h1v1h-1zM340 177h1v1h-1zM344 177h1v1h-1zM348 177h1v1h-1zM352 177h1v1h-1zM356 177h1v1h-1zM360 177h1v1h-1zM364 177h1v1h-1zM368 177h1v1h-1zM372 177h1v1h-1zM376 177h1v1h-1zM380 177h1v1h-1zM384 177h1v1h-1zM388 177h1v1h-1zM392 177h1v1h-1zM396 177h1v1h-1zM400 177h1v1h-1zM404 177h1v1h-1zM408 177h1v1h-1zM412 177h1v1h-1zM416 177h1v1h-1zM420 177h1v1h-1zM424 177h1v1h-1zM428 177h1v1h-1zM432 177h1v1h-1zM436 177h1v1h-1zM440 177h1v1h-1zM444 177h1v1h-1zM448 177h1v1h-1zM452 177h1v1h-1zM456 177h1v1h-1zM460 177h1v1h-1zM464 177h1v1h-1zM468 177h1v1h-1zM472 177h1v1h-1zM476 177h1v1h-1zM480 177h1v1h-1zM484 177h1v1h-1zM488 177h1v1h-1zM492 177h1v1h-1zM496 177h1v1h-1zM500 177h1v1h-1zM504 177h1v1h-1zM508 177h1v1h-1zM512 177h1v1h-1zM516 177h1v1h-1zM520 177h1v1h-1zM524 177h1v1h-1zM528 177h1v1h-1zM532 177h1v1h-1zM536 177h1v1h-1zM540 177h1v1h-1zM544 177h1v1h-1zM548 177h1v1h-1zM552 177h1v1h-1zM556 177h1v1h-1zM560 177h1v1h-1zM564 177h1v1h-1zM568 177h1v1h-1z" fill="#777"/><path d="M39 188h1v1h-1zM43 188h1v1h-1zM47 188h1v1h-1zM51 188h1v1h-1zM55 188h1v1h-1zM59 188h1v1h-1zM63 188h1v1h-1zM67 188h1v1h-1zM71 188h1v1h-1zM75 188h1v1h-1zM79 188h1v1h-1zM83 188h1v1h-1zM87 188h1v1h-1zM91 188h1v1h-1zM95 188h1v1h-1zM99 188h1v1h-1zM103 188h1v1h-1zM107 188h1v1h-1zM111 188h1v1h-1zM115 188h1v1h-1zM119 188h1v1h-1zM123 188h1v1h-1zM127 188h1v1h-1zM131 188h1v1h-1zM135 188h1v1h-1zM139 188h1v1h-1zM143 188h1v1h-1zM147 188h1v1h-1zM151 188h1v1h-1zM155 188h1v1h-1zM159 188h1v1h-1zM163 188h1v1h-1zM167 188h1v1h-1zM171 188h1v1h-1zM175 188h1v1h-1zM179 188h1v1h-1zM183 188h1v1h-1zM187 188h1v1h-1zM191 188h1v1h-1zM195 188h1v1h-1zM199 188h1v1h-1zM203 188h1v1h-1zM207 188h1v1h-1zM211 188h1v1h-1zM215 188h1v1h-1zM219 188h1v1h-1zM223 188h1v1h-1zM227 188h1v1h-1zM231 188h1v1h-1zM235 188h1v1h-1zM239 188h1v1h-1zM243 188h1v1h-1zM247 188h1v1h-1zM251 188h1v1h-1zM255 188h1v1h-1zM259 188h1v1h-1zM263 188h1v1h-1zM267 188h1v1h-1zM271 188h1v1h-1zM275 188h1v1h-1zM279 188h1v1h-1zM283 188h1v1h-1zM287 188h1v1h-1zM291 188h1v1h-1zM295 188h1v1h-1zM299 188h1v1h-1zM303 188h1v1h-1zM307 188h1v1h-1zM311 188h1v1h-1zM315 188h1v1h-1zM319 188h1v1h-1zM323 188h1v1h-1zM327 188h1v1h-1zM331 188h1v1h-1zM335 188h1v1h-1zM339 188h1v1h-1zM343 188h1v1h-1zM347 188h1v1h-1zM351 188h1v1h-1zM355 188h1v1h-1zM359 188h1v1h-1zM363 188h1v1h-1zM367 188h1v1h-1zM371 188h1v1h-1zM375 188h1v1h-1zM379 188h1v1h-1zM383 188h1v1h-1zM387 188h1v1h-1zM391 188h1v1h-1zM395 188h1v1h-1zM399 188h1v1h-1zM403 188h1v1h-1zM407 188h1v1h-1zM411 188h1v1h-1zM415 188h1v1h-1zM419 188h1v1h-1zM423 188h1v1h-1zM427 188h1v1h-1zM431 188h1v1h-1zM435 188h1v1h-1zM439 188h1v1h-1zM443 188h1v1h-1zM447 188h1v1h-1zM451 188h1v1h-1zM455 188h1v1h-1zM459 188h1v1h-1zM463 188h1v1h-1zM467 188h1v1h-1zM471 188h1v1h-1zM475 188h1v1h-1zM479 188h1v1h-1zM483 188h1v1h-1zM487 188h1v1h-1zM491 188h1v1h-1zM495 188h1v1h-1zM499 188h1v1h-1zM503 188h1v1h-1zM507 188h1v1h-1zM511 188h1v1h-1zM515 188h1v1h-1zM519 188h1v1h-1zM523 188h1v1h-1zM527 188h1v1h-1zM531 188h1v1h-1zM535 188h1v1h-1zM539 188h1v1h-1zM543 188h1v1h-1zM547 188h1v1h-1zM551 188h1v1h-1zM555 188h1v1h-1zM559 188h1v1h-1zM563 188h1v1h-1zM567 188h1v1h-1z" fill="#777"/><path d="M112 134h1v1h-1zM112 138h1v1h-1zM112 142h1v1h-1zM112 146h1v1h-1zM112 150h1v1h-1zM112 154h1v1h-1zM112 158h1v1h-1zM112 162h1v1h-1zM112 166h1v1h-1zM112 170h1v1h-1zM112 174h1v1h-1zM112 178h1v1h-1zM112 182h1v1h-1zM112 186h1v1h-1zM112 190h1v1h-1zM112 194h1v1h-1zM112 198h1v1h-1zM112 202h1v1h-1zM112 206h1v1h-1zM112 210h1v1h-1zM112 214h1v1h-1zM112 218h1v1h-1zM112 222h1v1h-1zM112 226h1v1h-1zM112 230h1v1h-1z" fill="#777"/><rect x="112" y="133" width="1" height="2" fill="#000"/><path d="M189 134h1v1h-1zM189 138h1v1h-1zM189 142h1v1h-1zM189 146h1v1h-1zM189 150h1v1h-1zM189 154h1v1h-1zM189 158h1v1h-1zM189 162h1v1h-1zM189 166h1v1h-1zM189 170h1v1h-1zM189 174h1v1h-1zM189 178h1v1h-1zM189 182h1v1h-1zM189 186h1v1h-1zM189 190h1v1h-1zM189 194h1v1h-1zM189 198h1v1h-1zM189 202h1v1h-1zM189 206h1v1h-1zM189 210h1v1h-1zM189 214h1v1h-1zM189 218h1v1h-1zM189 222h1v1h-1zM189 226h1v1h-1zM189 230h1v1h-1z" fill="#777"/><rect x="189" y="133" width="1" height="2" fill="#000"/><path d="M265 134h1v1h-1zM265 138h1v1h-1zM265 142h1v1h-1zM265 146h1v1h-1zM265 150h1v1h-1zM265 154h1v1h-1zM265 158h1v1h-1zM265 162h1v1h-1zM265 166h1v1h-1zM265 170h1v1h-1zM265 174h1v1h-1zM265 178h1v1h-1zM265 182h1v1h-1zM265 186h1v1h-1zM265 190h1v1h-1zM265 194h1v1h-1zM265 198h1v1h-1zM265 202h1v1h-1zM265 206h1v1h-1zM265 210h1v1h-1zM265 214h1v1h-1zM265 218h1v1h-1zM265 222h1v1h-1zM265 226h1v1h-1zM265 230h1v1h-1z" fill="#777"/><rect x="265" y="133" width="1" height="2" fill="#000"/><path d="M341 134h1v1h-1zM341 138h1v1h-1zM341 142h1v1h-1zM341 146h1v1h-1zM341 150h1v1h-1zM341 154h1v1h-1zM341 158h1v1h-1zM341 162h1v1h-1zM341 166h1v1h-1zM341 170h1v1h-1zM341 174h1v1h-1zM341 178h1v1h-1zM341 182h1v1h-1zM341 186h1v1h-1zM341 190h1v1h-1zM341 194h1v1h-1zM341 198h1v1h-1zM341 202h1v1h-1zM341 206h1v1h-1zM341 210h1v1h-1zM341 214h1v1h-1zM341 218h1v1h-1zM341 222h1v1h-1zM341 226h1v1h-1zM341 230h1v1h-1z" fill="#777"/><rect x="341" y="133" width="1" height="2" fill="#000"/><path d="M417 134h1v1h-1zM417 138h1v1h-1zM417 142h1v1h-1zM417 146h1v1h-1zM417 150h1v1h-1zM417 154h1v1h-1zM417 158h1v1h-1zM417 162h1v1h-1zM417 166h1v1h-1zM417 170h1v1h-1zM417 174h1v1h-1zM417 178h1v1h-1zM417 182h1v1h-1zM417 186h1v1h-1zM417 190h1v1h-1zM417 194h1v1h-1zM417 198h1v1h-1zM417 202h1v1h-1zM417 206h1v1h-1zM417 210h1v1h-1zM417 214h1v1h-1zM417 218h1v1h-1zM417 222h1v1h-1zM417 226h1v1h-1zM417 230h1v1h-1z" fill="#777"/><rect x="417" y="133" width="1" height="2" fill="#000"/><path d="M494 134h1v1h-1zM494 138h1v1h-1zM494 142h1v1h-1zM494 146h1v1h-1zM494 150h1v1h-1zM494 154h1v1h-1zM494 158h1v1h-1zM494 162h1v1h-1zM494 166h1v1h-1zM494 170h1v1h-1zM494 174h1v1h-1zM494 178h1v1h-1zM494 182h1v1h-1zM494 186h1v1h-1zM494 190h1v1h-1zM494 194h1v1h-1zM494 198h1v1h-1zM494 202h1v1h-1zM494 206h1v1h-1zM494 210h1v1h-1zM494 214h1v1h-1zM494 218h1v1h-1zM494 222h1v1h-1zM494 226h1v1h-1zM494 230h1v1h-1z" fill="#777"/><rect x="494" y="133" width="1" height="2" fill="#000"/><path d="M570 134h1v1h-1zM570 138h1v1h-1zM570 142h1v1h-1zM570 146h1v1h-1zM570 150h1v1h-1zM570 154h1v1h-1zM570 158h1v1h-1zM570 162h1v1h-1zM570 166h1v1h-1zM570 170h1v1h-1zM570 174h1v1h-1zM570 178h1v1h-1zM570 182h1v1h-1zM570 186h1v1h-1zM570 190h1v1h-1zM570 194h1v1h-1zM570 198h1v1h-1zM570 202h1v1h-1zM570 206h1v1h-1zM570 210h1v1h-1zM570 214h1v1h-1zM570 218h1v1h-1zM570 222h1v1h-1zM570 226h1v1h-1zM570 230h1v1h-1z" fill="#777"/></g>
<g shape-rendering="crispEdges"><rect x="36" y="244" width="1" height="103" fill="#000"/><rect x="36" y="244" width="535" height="1" fill="#000"/><rect x="570" y="244" width="1" height="103" fill="#000"/><rect x="36" y="308" width="11" height="38" fill="#F0C000"/><rect x="37" y="309" width="9" height="37" fill="#009000"/><rect x="41" y="344" width="1" height="2" fill="#F0C000"/><rect x="46" y="308" width="10" height="38" fill="#F0C000"/><rect x="47" y="309" width="8" height="37" fill="#009000"/><rect x="50" y="344" width="1" height="2" fill="#F0C000"/><rect x="55" y="319" width="11" height="27" fill="#F0C000"/><rect x="56" y="320" width="9" height="26" fill="#009000"/><rect x="60" y="344" width="1" height="2" fill="#F0C000"/><rect x="65" y="312" width="10" height="34" fill="#F0C000"/><rect x="66" y="313" width="8" height="33" fill="#009000"/><rect x="69" y="344" width="1" height="2" fill="#F0C000"/><rect x="74" y="323" width="11" height="23" fill="#F0C000"/><rect x="75" y="324" width="9" height="22" fill="#009000"/><rect x="79" y="344" width="1" height="2" fill="#F0C000"/><rect x="84" y="327" width="10" height="19" fill="#F0C000"/><rect x="85" y="328" width="8" height="18" fill="#009000"/><rect x="88" y="344" width="1" height="2" fill="#F0C000"/><rect x="93" y="334" width="11" height="12" fill="#F0C000"/><rect x="94" y="335" width="9" height="11" fill="#009000"/><rect x="98" y="344" width="1" height="2" fill="#F0C000"/><rect x="103" y="338" width="10" height="8" fill="#F0C000"/><rect x="104" y="339" width="8" height="7" fill="#009000"/><rect x="108" y="344" width="1" height="2" fill="#F0C000"/><rect x="112" y="334" width="11" height="12" fill="#F0C000"/><rect x="113" y="335" width="9" height="11" fill="#009000"/><rect x="117" y="344" width="1" height="2" fill="#F0C000"/><rect x="122" y="338" width="10" height="8" fill="#F0C000"/><rect x="123" y="339" width="8" height="7" fill="#009000"/><rect x="127" y="344" width="1" height="2" fill="#F0C000"/><rect x="131" y="327" width="11" height="19" fill="#F0C000"/><rect x="132" y="328" width="9" height="18" fill="#009000"/><rect x="136" y="344" width="1" height="2" fill="#F0C000"/><rect x="141" y="334" width="10" height="12" fill="#F0C000"/><rect x="142" y="335" width="8" height="11" fill="#009000"/><rect x="146" y="344" width="1" height="2" fill="#F0C000"/><rect x="150" y="342" width="11" height="4" fill="#F0C000"/><rect x="151" y="343" width="9" height="3" fill="#009000"/><rect x="155" y="344" width="1" height="2" fill="#F0C000"/><rect x="160" y="338" width="11" height="8" fill="#F0C000"/><rect x="161" y="339" width="9" height="7" fill="#009000"/><rect x="165" y="344" width="1" height="2" fill="#F0C000"/><rect x="170" y="338" width="10" height="8" fill="#F0C000"/><rect x="171" y="339" width="8" height="7" fill="#009000"/><rect x="174" y="344" width="1" height="2" fill="#F0C000"/><rect x="179" y="334" width="11" height="12" fill="#F0C000"/><rect x="180" y="335" width="9" height="11" fill="#009000"/><rect x="184" y="344" width="1" height="2" fill="#F0C000"/><rect x="189" y="334" width="10" height="12" fill="#F0C000"/><rect x="190" y="335" width="8" height="11" fill="#009000"/><rect x="193" y="344" width="1" height="2" fill="#F0C000"/><rect x="198" y="331" width="11" height="15" fill="#F0C000"/><rect x="199" y="332" width="9" height="14" fill="#009000"/><rect x="203" y="344" width="1" height="2" fill="#F0C000"/><rect x="208" y="323" width="10" height="23" fill="#F0C000"/><rect x="209" y="324" width="8" height="22" fill="#009000"/><rect x="212" y="344" width="1" height="2" fill="#F0C000"/><rect x="217" y="308" width="11" height="38" fill="#F0C000"/><rect x="218" y="309" width="9" height="37" fill="#009000"/><rect x="222" y="344" width="1" height="2" fill="#F0C000"/><rect x="227" y="297" width="10" height="49" fill="#F0C000"/><rect x="228" y="298" width="8" height="48" fill="#F0C000"/><rect x="231" y="344" width="1" height="2" fill="#F0C000"/><rect x="236" y="293" width="11" height="53" fill="#F0C000"/><rect x="237" y="294" width="9" height="52" fill="#FF0000"/><rect x="241" y="344" width="1" height="2" fill="#F0C000"/><rect x="246" y="297" width="10" height="49" fill="#F0C000"/><rect x="247" y="298" width="8" height="48" fill="#F0C000"/><rect x="251" y="344" width="1" height="2" fill="#F0C000"/><rect x="255" y="316" width="11" height="30" fill="#F0C000"/><rect x="256" y="317" width="9" height="29" fill="#009000"/><rect x="260" y="344" width="1" height="2" fill="#F0C000"/><rect x="265" y="319" width="10" height="27" fill="#F0C000"/><rect x="266" y="320" width="8" height="26" fill="#009000"/><rect x="270" y="344" width="1" height="2" fill="#F0C000"/><rect x="274" y="312" width="11" height="34" fill="#F0C000"/><rect x="275" y="313" width="9" height="33" fill="#009000"/><rect x="279" y="344" width="1" height="2" fill="#F0C000"/><rect x="284" y="304" width="10" height="42" fill="#F0C000"/><rect x="285" y="305" width="8" height="41" fill="#F0C000"/><rect x="289" y="344" width="1" height="2" fill="#F0C000"/><rect x="293" y="312" width="11" height="34" fill="#F0C000"/><rect x="294" y="313" width="9" height="33" fill="#009000"/><rect x="298" y="344" width="1" height="2" fill="#F0C000"/><rect x="303" y="312" width="11" height="34" fill="#F0C000"/><rect x="304" y="313" width="9" height="33" fill="#009000"/><rect x="308" y="344" width="1" height="2" fill="#F0C000"/><rect x="313" y="327" width="10" height="19" fill="#F0C000"/><rect x="314" y="328" width="8" height="18" fill="#009000"/><rect x="317" y="344" width="1" height="2" fill="#F0C000"/><rect x="322" y="331" width="11" height="15" fill="#F0C000"/><rect x="323" y="332" width="9" height="14" fill="#009000"/><rect x="327" y="344" width="1" height="2" fill="#F0C000"/><rect x="332" y="331" width="10" height="15" fill="#F0C000"/><rect x="333" y="332" width="8" height="14" fill="#009000"/><rect x="336" y="344" width="1" height="2" fill="#F0C000"/><rect x="341" y="312" width="11" height="34" fill="#F0C000"/><rect x="342" y="313" width="9" height="33" fill="#009000"/><rect x="346" y="344" width="1" height="2" fill="#F0C000"/><rect x="351" y="308" width="10" height="38" fill="#F0C000"/><rect x="352" y="309" width="8" height="37" fill="#009000"/><rect x="355" y="344" width="1" height="2" fill="#F0C000"/><rect x="360" y="316" width="11" height="30" fill="#F0C000"/><rect x="361" y="317" width="9" height="29" fill="#009000"/><rect x="365" y="344" width="1" height="2" fill="#F0C000"/><rect x="370" y="327" width="10" height="19" fill="#F0C000"/><rect x="371" y="328" width="8" height="18" fill="#009000"/><rect x="375" y="344" width="1" height="2" fill="#F0C000"/><rect x="379" y="334" width="11" height="12" fill="#F0C000"/><rect x="380" y="335" width="9" height="11" fill="#009000"/><rect x="384" y="344" width="1" height="2" fill="#F0C000"/><rect x="389" y="342" width="10" height="4" fill="#F0C000"/><rect x="390" y="343" width="8" height="3" fill="#009000"/><rect x="394" y="344" width="1" height="2" fill="#F0C000"/><rect x="398" y="342" width="11" height="4" fill="#F0C000"/><rect x="399" y="343" width="9" height="3" fill="#009000"/><rect x="403" y="344" width="1" height="2" fill="#F0C000"/><rect x="408" y="344" width="10" height="2" fill="#F0C000"/><rect x="409" y="345" width="8" height="1" fill="#009000"/><rect x="413" y="344" width="1" height="2" fill="#F0C000"/><rect x="417" y="342" width="11" height="4" fill="#F0C000"/><rect x="418" y="343" width="9" height="3" fill="#009000"/><rect x="422" y="344" width="1" height="2" fill="#F0C000"/><rect x="427" y="342" width="11" height="4" fill="#F0C000"/><rect x="428" y="343" width="9" height="3" fill="#009000"/><rect x="432" y="344" width="1" height="2" fill="#F0C000"/><rect x="437" y="342" width="10" height="4" fill="#F0C000"/><rect x="438" y="343" width="8" height="3" fill="#009000"/><rect x="441" y="344" width="1" height="2" fill="#F0C000"/><rect x="446" y="338" width="11" height="8" fill="#F0C000"/><rect x="447" y="339" width="9" height="7" fill="#009000"/><rect x="451" y="344" width="1" height="2" fill="#F0C000"/><rect x="456" y="342" width="10" height="4" fill="#F0C000"/><rect x="457" y="343" width="8" height="3" fill="#009000"/><rect x="460" y="344" width="1" height="2" fill="#F0C000"/><rect x="465" y="342" width="11" height="4" fill="#F0C000"/><rect x="466" y="343" width="9" height="3" fill="#009000"/><rect x="470" y="344" width="1" height="2" fill="#F0C000"/><rect x="475" y="338" width="10" height="8" fill="#F0C000"/><rect x="476" y="339" width="8" height="7" fill="#009000"/><rect x="479" y="344" width="1" height="2" fill="#F0C000"/><rect x="484" y="342" width="11" height="4" fill="#F0C000"/><rect x="485" y="343" width="9" height="3" fill="#009000"/><rect x="489" y="344" width="1" height="2" fill="#F0C000"/><rect x="494" y="338" width="10" height="8" fill="#F0C000"/><rect x="495" y="339" width="8" height="7" fill="#009000"/><rect x="498" y="344" width="1" height="2" fill="#F0C000"/><rect x="503" y="331" width="11" height="15" fill="#F0C000"/><rect x="504" y="332" width="9" height="14" fill="#009000"/><rect x="508" y="344" width="1" height="2" fill="#F0C000"/><rect x="513" y="316" width="10" height="30" fill="#F0C000"/><rect x="514" y="317" width="8" height="29" fill="#009000"/><rect x="518" y="344" width="1" height="2" fill="#F0C000"/><rect x="522" y="323" width="11" height="23" fill="#F0C000"/><rect x="523" y="324" width="9" height="22" fill="#009000"/><rect x="527" y="344" width="1" height="2" fill="#F0C000"/><rect x="532" y="319" width="10" height="27" fill="#F0C000"/><rect x="533" y="320" width="8" height="26" fill="#009000"/><rect x="537" y="344" width="1" height="2" fill="#F0C000"/><rect x="541" y="312" width="11" height="34" fill="#F0C000"/><rect x="542" y="313" width="9" height="33" fill="#009000"/><rect x="546" y="344" width="1" height="2" fill="#F0C000"/><rect x="551" y="319" width="10" height="27" fill="#F0C000"/><rect x="552" y="320" width="8" height="26" fill="#009000"/><rect x="556" y="344" width="1" height="2" fill="#F0C000"/><rect x="565" y="344" width="1" height="2" fill="#F0C000"/><rect x="36" y="346" width="535" height="1" fill="#000"/><path d="M37 266h1v1h-1zM41 266h1v1h-1zM45 266h1v1h-1zM49 266h1v1h-1zM53 266h1v1h-1zM57 266h1v1h-1zM61 266h1v1h-1zM65 266h1v1h-1zM69 266h1v1h-1zM73 266h1v1h-1zM77 266h1v1h-1zM81 266h1v1h-1zM85 266h1v1h-1zM89 266h1v1h-1zM93 266h1v1h-1zM97 266h1v1h-1zM101 266h1v1h-1zM105 266h1v1h-1zM109 266h1v1h-1zM113 266h1v1h-1zM117 266h1v1h-1zM121 266h1v1h-1zM125 266h1v1h-1zM129 266h1v1h-1zM133 266h1v1h-1zM137 266h1v1h-1zM141 266h1v1h-1zM145 266h1v1h-1zM149 266h1v1h-1zM153 266h1v1h-1zM157 266h1v1h-1zM161 266h1v1h-1zM165 266h1v1h-1zM169 266h1v1h-1zM173 266h1v1h-1zM177 266h1v1h-1zM181 266h1v1h-1zM185 266h1v1h-1zM189 266h1v1h-1zM193 266h1v1h-1zM197 266h1v1h-1zM201 266h1v1h-1zM205 266h1v1h-1zM209 266h1v1h-1zM213 266h1v1h-1zM217 266h1v1h-1zM221 266h1v1h-1zM225 266h1v1h-1zM229 266h1v1h-1zM233 266h1v1h-1zM237 266h1v1h-1zM241 266h1v1h-1zM245 266h1v1h-1zM249 266h1v1h-1zM253 266h1v1h-1zM257 266h1v1h-1zM261 266h1v1h-1zM265 266h1v1h-1zM269 266h1v1h-1zM273 266h1v1h-1zM277 266h1v1h-1zM281 266h1v1h-1zM285 266h1v1h-1zM289 266h1v1h-1zM293 266h1v1h-1zM297 266h1v1h-1zM301 266h1v1h-1zM305 266h1v1h-1zM309 266h1v1h-1zM313 266h1v1h-1zM317 266h1v1h-1zM321 266h1v1h-1zM325 266h1v1h-1zM329 266h1v1h-1zM333 266h1v1h-1zM337 266h1v1h-1zM341 266h1v1h-1zM345 266h1v1h-1zM349 266h1v1h-1zM353 266h1v1h-1zM357 266h1v1h-1zM361 266h1v1h-1zM365 266h1v1h-1zM369 266h1v1h-1zM373 266h1v1h-1zM377 266h1v1h-1zM381 266h1v1h-1zM385 266h1v1h-1zM389 266h1v1h-1zM393 266h1v1h-1zM397 266h1v1h-1zM401 266h1v1h-1zM405 266h1v1h-1zM409 266h1v1h-1zM413 266h1v1h-1zM417 266h1v1h-1zM421 266h1v1h-1zM425 266h1v1h-1zM429 266h1v1h-1zM433 266h1v1h-1zM437 266h1v1h-1zM441 266h1v1h-1zM445 266h1v1h-1zM449 266h1v1h-1zM453 266h1v1h-1zM457 266h1v1h-1zM461 266h1v1h-1zM465 266h1v1h-1zM469 266h1v1h-1zM473 266h1v1h-1zM477 266h1v1h-1zM481 266h1v1h-1zM485 266h1v1h-1zM489 266h1v1h-1zM493 266h1v1h-1zM497 266h1v1h-1zM501 266h1v1h-1zM505 266h1v1h-1zM509 266h1v1h-1zM513 266h1v1h-1zM517 266h1v1h-1zM521 266h1v1h-1zM525 266h1v1h-1zM529 266h1v1h-1zM533 266h1v1h-1zM537 266h1v1h-1zM541 266h1v1h-1zM545 266h1v1h-1zM549 266h1v1h-1zM553 266h1v1h-1zM557 266h1v1h-1zM561 266h1v1h-1zM565 266h1v1h-1zM569 266h1v1h-1z" fill="#777"/><path d="M40 289h1v1h-1zM44 289h1v1h-1zM48 289h1v1h-1zM52 289h1v1h-1zM56 289h1v1h-1zM60 289h1v1h-1zM64 289h1v1h-1zM68 289h1v1h-1zM72 289h1v1h-1zM76 289h1v1h-1zM80 289h1v1h-1zM84 289h1v1h-1zM88 289h1v1h-1zM92 289h1v1h-1zM96 289h1v1h-1zM100 289h1v1h-1zM104 289h1v1h-1zM108 289h1v1h-1zM112 289h1v1h-1zM116 289h1v1h-1zM120 289h1v1h-1zM124 289h1v1h-1zM128 289h1v1h-1zM132 289h1v1h-1zM136 289h1v1h-1zM140 289h1v1h-1zM144 289h1v1h-1zM148 289h1v1h-1zM152 289h1v1h-1zM156 289h1v1h-1zM160 289h1v1h-1zM164 289h1v1h-1zM168 289h1v1h-1zM172 289h1v1h-1zM176 289h1v1h-1zM180 289h1v1h-1zM184 289h1v1h-1zM188 289h1v1h-1zM192 289h1v1h-1zM196 289h1v1h-1zM200 289h1v1h-1zM204 289h1v1h-1zM208 289h1v1h-1zM212 289h1v1h-1zM216 289h1v1h-1zM220 289h1v1h-1zM224 289h1v1h-1zM228 289h1v1h-1zM232 289h1v1h-1zM236 289h1v1h-1zM240 289h1v1h-1zM244 289h1v1h-1zM248 289h1v1h-1zM252 289h1v1h-1zM256 289h1v1h-1zM260 289h1v1h-1zM264 289h1v1h-1zM268 289h1v1h-1zM272 289h1v1h-1zM276 289h1v1h-1zM280 289h1v1h-1zM284 289h1v1h-1zM288 289h1v1h-1zM292 289h1v1h-1zM296 289h1v1h-1zM300 289h1v1h-1zM304 289h1v1h-1zM308 289h1v1h-1zM312 289h1v1h-1zM316 289h1v1h-1zM320 289h1v1h-1zM324 289h1v1h-1zM328 289h1v1h-1zM332 289h1v1h-1zM336 289h1v1h-1zM340 289h1v1h-1zM344 289h1v1h-1zM348 289h1v1h-1zM352 289h1v1h-1zM356 289h1v1h-1zM360 289h1v1h-1zM364 289h1v1h-1zM368 289h1v1h-1zM372 289h1v1h-1zM376 289h1v1h-1zM380 289h1v1h-1zM384 289h1v1h-1zM388 289h1v1h-1zM392 289h1v1h-1zM396 289h1v1h-1zM400 289h1v1h-1zM404 289h1v1h-1zM408 289h1v1h-1zM412 289h1v1h-1zM416 289h1v1h-1zM420 289h1v1h-1zM424 289h1v1h-1zM428 289h1v1h-1zM432 289h1v1h-1zM436 289h1v1h-1zM440 289h1v1h-1zM444 289h1v1h-1zM448 289h1v1h-1zM452 289h1v1h-1zM456 289h1v1h-1zM460 289h1v1h-1zM464 289h1v1h-1zM468 289h1v1h-1zM472 289h1v1h-1zM476 289h1v1h-1zM480 289h1v1h-1zM484 289h1v1h-1zM488 289h1v1h-1zM492 289h1v1h-1zM496 289h1v1h-1zM500 289h1v1h-1zM504 289h1v1h-1zM508 289h1v1h-1zM512 289h1v1h-1zM516 289h1v1h-1zM520 289h1v1h-1zM524 289h1v1h-1zM528 289h1v1h-1zM532 289h1v1h-1zM536 289h1v1h-1zM540 289h1v1h-1zM544 289h1v1h-1zM548 289h1v1h-1zM552 289h1v1h-1zM556 289h1v1h-1zM560 289h1v1h-1zM564 289h1v1h-1zM568 289h1v1h-1z" fill="#777"/><path d="M39 300h1v1h-1zM43 300h1v1h-1zM47 300h1v1h-1zM51 300h1v1h-1zM55 300h1v1h-1zM59 300h1v1h-1zM63 300h1v1h-1zM67 300h1v1h-1zM71 300h1v1h-1zM75 300h1v1h-1zM79 300h1v1h-1zM83 300h1v1h-1zM87 300h1v1h-1zM91 300h1v1h-1zM95 300h1v1h-1zM99 300h1v1h-1zM103 300h1v1h-1zM107 300h1v1h-1zM111 300h1v1h-1zM115 300h1v1h-1zM119 300h1v1h-1zM123 300h1v1h-1zM127 300h1v1h-1zM131 300h1v1h-1zM135 300h1v1h-1zM139 300h1v1h-1zM143 300h1v1h-1zM147 300h1v1h-1zM151 300h1v1h-1zM155 300h1v1h-1zM159 300h1v1h-1zM163 300h1v1h-1zM167 300h1v1h-1zM171 300h1v1h-1zM175 300h1v1h-1zM179 300h1v1h-1zM183 300h1v1h-1zM187 300h1v1h-1zM191 300h1v1h-1zM195 300h1v1h-1zM199 300h1v1h-1zM203 300h1v1h-1zM207 300h1v1h-1zM211 300h1v1h-1zM215 300h1v1h-1zM219 300h1v1h-1zM223 300h1v1h-1zM227 300h1v1h-1zM231 300h1v1h-1zM235 300h1v1h-1zM239 300h1v1h-1zM243 300h1v1h-1zM247 300h1v1h-1zM251 300h1v1h-1zM255 300h1v1h-1zM259 300h1v1h-1zM263 300h1v1h-1zM267 300h1v1h-1zM271 300h1v1h-1zM275 300h1v1h-1zM279 300h1v1h-1zM283 300h1v1h-1zM287 300h1v1h-1zM291 300h1v1h-1zM295 300h1v1h-1zM299 300h1v1h-1zM303 300h1v1h-1zM307 300h1v1h-1zM311 300h1v1h-1zM315 300h1v1h-1zM319 300h1v1h-1zM323 300h1v1h-1zM327 300h1v1h-1zM331 300h1v1h-1zM335 300h1v1h-1zM339 300h1v1h-1zM343 300h1v1h-1zM347 300h1v1h-1zM351 300h1v1h-1zM355 300h1v1h-1zM359 300h1v1h-1zM363 300h1v1h-1zM367 300h1v1h-1zM371 300h1v1h-1zM375 300h1v1h-1zM379 300h1v1h-1zM383 300h1v1h-1zM387 300h1v1h-1zM391 300h1v1h-1zM395 300h1v1h-1zM399 300h1v1h-1zM403 300h1v1h-1zM407 300h1v1h-1zM411 300h1v1h-1zM415 300h1v1h-1zM419 300h1v1h-1zM423 300h1v1h-1zM427 300h1v1h-1zM431 300h1v1h-1zM435 300h1v1h-1zM439 300h1v1h-1zM443 300h1v1h-1zM447 300h1v1h-1zM451 300h1v1h-1zM455 300h1v1h-1zM459 300h1v1h-1zM463 300h1v1h-1zM467 300h1v1h-1zM471 300h1v1h-1zM475 300h1v1h-1zM479 300h1v1h-1zM483 300h1v1h-1zM487 300h1v1h-1zM491 300h1v1h-1zM495 300h1v1h-1zM499 300h1v1h-1zM503 300h1v1h-1zM507 300h1v1h-1zM511 300h1v1h-1zM515 300h1v1h-1zM519 300h1v1h-1zM523 300h1v1h-1zM527 300h1v1h-1zM531 300h1v1h-1zM535 300h1v1h-1zM539 300h1v1h-1zM543 300h1v1h-1zM547 300h1v1h-1zM551 300h1v1h-1zM555 300h1v1h-1zM559 300h1v1h-1zM563 300h1v1h-1zM567 300h1v1h-1z" fill="#777"/><path d="M112 246h1v1h-1zM112 250h1v1h-1zM112 254h1v1h-1zM112 258h1v1h-1zM112 262h1v1h-1zM112 266h1v1h-1zM112 270h1v1h-1zM112 274h1v1h-1zM112 278h1v1h-1zM112 282h1v1h-1zM112 286h1v1h-1zM112 290h1v1h-1zM112 294h1v1h-1zM112 298h1v1h-1zM112 302h1v1h-1zM112 306h1v1h-1zM112 310h1v1h-1zM112 314h1v1h-1zM112 318h1v1h-1zM112 322h1v1h-1zM112 326h1v1h-1zM112 330h1v1h-1zM112 334h1v1h-1zM112 338h1v1h-1zM112 342h1v1h-1z" fill="#777"/><rect x="112" y="245" width="1" height="2" fill="#000"/><path d="M189 246h1v1h-1zM189 250h1v1h-1zM189 254h1v1h-1zM189 258h1v1h-1zM189 262h1v1h-1zM189 266h1v1h-1zM189 270h1v1h-1zM189 274h1v1h-1zM189 278h1v1h-1zM189 282h1v1h-1zM189 286h1v1h-1zM189 290h1v1h-1zM189 294h1v1h-1zM189 298h1v1h-1zM189 302h1v1h-1zM189 306h1v1h-1zM189 310h1v1h-1zM189 314h1v1h-1zM189 318h1v1h-1zM189 322h1v1h-1zM189 326h1v1h-1zM189 330h1v1h-1zM189 334h1v1h-1zM189 338h1v1h-1zM189 342h1v1h-1z" fill="#777"/><rect x="189" y="245" width="1" height="2" fill="#000"/><path d="M265 246h1v1h-1zM265 250h1v1h-1zM265 254h1v1h-1zM265 258h1v1h-1zM265 262h1v1h-1zM265 266h1v1h-1zM265 270h1v1h-1zM265 274h1v1h-1zM265 278h1v1h-1zM265 282h1v1h-1zM265 286h1v1h-1zM265 290h1v1h-1zM265 294h1v1h-1zM265 298h1v1h-1zM265 302h1v1h-1zM265 306h1v1h-1zM265 310h1v1h-1zM265 314h1v1h-1zM265 318h1v1h-1zM265 322h1v1h-1zM265 326h1v1h-1zM265 330h1v1h-1zM265 334h1v1h-1zM265 338h1v1h-1zM265 342h1v1h-1z" fill="#777"/><rect x="265" y="245" width="1" height="2" fill="#000"/><path d="M341 246h1v1h-1zM341 250h1v1h-1zM341 254h1v1h-1zM341 258h1v1h-1zM341 262h1v1h-1zM341 266h1v1h-1zM341 270h1v1h-1zM341 274h1v1h-1zM341 278h1v1h-1zM341 282h1v1h-1zM341 286h1v1h-1zM341 290h1v1h-1zM341 294h1v1h-1zM341 298h1v1h-1zM341 302h1v1h-1zM341 306h1v1h-1zM341 310h1v1h-1zM341 314h1v1h-1zM341 318h1v1h-1zM341 322h1v1h-1zM341 326h1v1h-1zM341 330h1v1h-1zM341 334h1v1h-1zM341 338h1v1h-1zM341 342h1v1h-1z" fill="#777"/><rect x="341" y="245" width="1" height="2" fill="#000"/><path d="M417 246h1v1h-1zM417 250h1v1h-1zM417 254h1v1h-1zM417 258h1v1h-1zM417 262h1v1h-1zM417 266h1v1h-1zM417 270h1v1h-1zM417 274h1v1h-1zM417 278h1v1h-1zM417 282h1v1h-1zM417 286h1v1h-1zM417 290h1v1h-1zM417 294h1v1h-1zM417 298h1v1h-1zM417 302h1v1h-1zM417 306h1v1h-1zM417 310h1v1h-1zM417 314h1v1h-1zM417 318h1v1h-1zM417 322h1v1h-1zM417 326h1v1h-1zM417 330h1v1h-1zM417 334h1v1h-1zM417 338h1v1h-1zM417 342h1v1h-1z" fill="#777"/><rect x="417" y="245" width="1" height="2" fill="#000"/><path d="M494 246h1v1h-1zM494 250h1v1h-1zM494 254h1v1h-1zM494 258h1v1h-1zM494 262h1v1h-1zM494 266h1v1h-1zM494 270h1v1h-1zM494 274h1v1h-1zM494 278h1v1h-1zM494 282h1v1h-1zM494 286h1v1h-1zM494 290h1v1h-1zM494 294h1v1h-1zM494 298h1v1h-1zM494 302h1v1h-1zM494 306h1v1h-1zM494 310h1v1h-1zM494 314h1v1h-1zM494 318h1v1h-1zM494 322h1v1h-1zM494 326h1v1h-1zM494 330h1v1h-1zM494 334h1v1h-1zM494 338h1v1h-1zM494 342h1v1h-1z" fill="#777"/><rect x="494" y="245" width="1" height="2" fill="#000"/><path d="M570 246h1v1h-1zM570 250h1v1h-1zM570 254h1v1h-1zM570 258h1v1h-1zM570 262h1v1h-1zM570 266h1v1h-1zM570 270h1v1h-1zM570 274h1v1h-1zM570 278h1v1h-1zM570 282h1v1h-1zM570 286h1v1h-1zM570 290h1v1h-1zM570 294h1v1h-1zM570 298h1v1h-1zM570 302h1v1h-1zM570 306h1v1h-1zM570 310h1v1h-1zM570 314h1v1h-1zM570 318h1v1h-1zM570 322h1v1h-1zM570 326h1v1h-1zM570 330h1v1h-1zM570 334h1v1h-1zM570 338h1v1h-1zM570 342h1v1h-1z" fill="#777"/></g>
<g shape-rendering="crispEdges"><rect x="36" y="356" width="1" height="103" fill="#000"/><rect x="36" y="356" width="535" height="1" fill="#000"/><rect x="570" y="356" width="1" height="103" fill="#000"/><rect x="36" y="435" width="11" height="23" fill="#F0C000"/><rect x="37" y="436" width="9" height="22" fill="#009000"/><rect x="41" y="456" width="1" height="2" fill="#F0C000"/><rect x="46" y="435" width="10" height="23" fill="#F0C000"/><rect x="47" y="436" width="8" height="22" fill="#009000"/><rect x="50" y="456" width="1" height="2" fill="#F0C000"/><rect x="55" y="424" width="11" height="34" fill="#F0C000"/><rect x="56" y="425" width="9" height="33" fill="#009000"/><rect x="60" y="456" width="1" height="2" fill="#F0C000"/><rect x="65" y="390" width="10" height="68" fill="#F0C000"/><rect x="66" y="391" width="8" height="67" fill="#FF0000"/><rect x="69" y="456" width="1" height="2" fill="#F0C000"/><rect x="74" y="401" width="11" height="57" fill="#F0C000"/><rect x="75" y="402" width="9" height="56" fill="#FF0000"/><rect x="79" y="456" width="1" height="2" fill="#F0C000"/><rect x="84" y="424" width="10" height="34" fill="#F0C000"/><rect x="85" y="425" width="8" height="33" fill="#009000"/><rect x="88" y="456" width="1" height="2" fill="#F0C000"/><rect x="93" y="447" width="11" height="11" fill="#F0C000"/><rect x="94" y="448" width="9" height="10" fill="#009000"/><rect x="98" y="456" width="1" height="2" fill="#F0C000"/><rect x="103" y="456" width="10" height="2" fill="#F0C000"/><rect x="104" y="457" width="8" height="1" fill="#009000"/><rect x="108" y="456" width="1" height="2" fill="#F0C000"/><rect x="112" y="447" width="11" height="11" fill="#F0C000"/><rect x="113" y="448" width="9" height="10" fill="#009000"/><rect x="117" y="456" width="1" height="2" fill="#F0C000"/><rect x="122" y="456" width="10" height="2" fill="#F0C000"/><rect x="123" y="457" width="8" height="1" fill="#009000"/><rect x="127" y="456" width="1" height="2" fill="#F0C000"/><rect x="131" y="435" width="11" height="23" fill="#F0C000"/><rect x="132" y="436" width="9" height="22" fill="#009000"/><rect x="136" y="456" width="1" height="2" fill="#F0C000"/><rect x="141" y="424" width="10" height="34" fill="#F0C000"/><rect x="142" y="425" width="8" height="33" fill="#009000"/><rect x="146" y="456" width="1" height="2" fill="#F0C000"/><rect x="150" y="447" width="11" height="11" fill="#F0C000"/><rect x="151" y="448" width="9" height="10" fill="#009000"/><rect x="155" y="456" width="1" height="2" fill="#F0C000"/><rect x="160" y="456" width="11" height="2" fill="#F0C000"/><rect x="161" y="457" width="9" height="1" fill="#009000"/><rect x="165" y="456" width="1" height="2" fill="#F0C000"/><rect x="170" y="456" width="10" height="2" fill="#F0C000"/><rect x="171" y="457" width="8" height="1" fill="#009000"/><rect x="174" y="456" width="1" height="2" fill="#F0C000"/><rect x="179" y="456" width="11" height="2" fill="#F0C000"/><rect x="180" y="457" width="9" height="1" fill="#009000"/><rect x="184" y="456" width="1" height="2" fill="#F0C000"/><rect x="189" y="456" width="10" height="2" fill="#F0C000"/><rect x="190" y="457" width="8" height="1" fill="#009000"/><rect x="193" y="456" width="1" height="2" fill="#F0C000"/><rect x="198" y="447" width="11" height="11" fill="#F0C000"/><rect x="199" y="448" width="9" height="10" fill="#009000"/><rect x="203" y="456" width="1" height="2" fill="#F0C000"/><rect x="208" y="456" width="10" height="2" fill="#F0C000"/><rect x="209" y="457" width="8" height="1" fill="#009000"/><rect x="212" y="456" width="1" height="2" fill="#F0C000"/><rect x="217" y="390" width="11" height="68" fill="#F0C000"/><rect x="218" y="391" width="9" height="67" fill="#FF0000"/><rect x="222" y="456" width="1" height="2" fill="#F0C000"/><rect x="227" y="390" width="10" height="68" fill="#F0C000"/><rect x="228" y="391" width="8" height="67" fill="#FF0000"/><rect x="231" y="456" width="1" height="2" fill="#F0C000"/><rect x="236" y="379" width="11" height="79" fill="#F0C000"/><rect x="237" y="380" width="9" height="78" fill="#400080"/><rect x="241" y="456" width="1" height="2" fill="#F0C000"/><rect x="246" y="401" width="10" height="57" fill="#F0C000"/><rect x="247" y="402" width="8" height="56" fill="#FF0000"/><rect x="251" y="456" width="1" height="2" fill="#F0C000"/><rect x="255" y="435" width="11" height="23" fill="#F0C000"/><rect x="256" y="436" width="9" height="22" fill="#009000"/><rect x="260" y="456" width="1" height="2" fill="#F0C000"/><rect x="265" y="435" width="10" height="23" fill="#F0C000"/><rect x="266" y="436" width="8" height="22" fill="#009000"/><rect x="270" y="456" width="1" height="2" fill="#F0C000"/><rect x="274" y="413" width="11" height="45" fill="#F0C000"/><rect x="275" y="414" width="9" height="44" fill="#F0C000"/><rect x="279" y="456" width="1" height="2" fill="#F0C000"/><rect x="284" y="401" width="10" height="57" fill="#F0C000"/><rect x="285" y="402" width="8" height="56" fill="#FF0000"/><rect x="289" y="456" width="1" height="2" fill="#F0C000"/><rect x="293" y="390" width="11" height="68" fill="#F0C000"/><rect x="294" y="391" width="9" height="67" fill="#FF0000"/><rect x="298" y="456" width="1" height="2" fill="#F0C000"/><rect x="303" y="390" width="11" height="68" fill="#F0C000"/><rect x="304" y="391" width="9" height="67" fill="#FF0000"/><rect x="308" y="456" width="1" height="2" fill="#F0C000"/><rect x="313" y="401" width="10" height="57" fill="#F0C000"/><rect x="314" y="402" width="8" height="56" fill="#FF0000"/><rect x="317" y="456" width="1" height="2" fill="#F0C000"/><rect x="322" y="435" width="11" height="23" fill="#F0C000"/><rect x="323" y="436" width="9" height="22" fill="#009000"/><rect x="327" y="456" width="1" height="2" fill="#F0C000"/><rect x="332" y="447" width="10" height="11" fill="#F0C000"/><rect x="333" y="448" width="8" height="10" fill="#009000"/><rect x="336" y="456" width="1" height="2" fill="#F0C000"/><rect x="341" y="435" width="11" height="23" fill="#F0C000"/><rect x="342" y="436" width="9" height="22" fill="#009000"/><rect x="346" y="456" width="1" height="2" fill="#F0C000"/><rect x="351" y="424" width="10" height="34" fill="#F0C000"/><rect x="352" y="425" width="8" height="33" fill="#009000"/><rect x="355" y="456" width="1" height="2" fill="#F0C000"/><rect x="360" y="401" width="11" height="57" fill="#F0C000"/><rect x="361" y="402" width="9" height="56" fill="#FF0000"/><rect x="365" y="456" width="1" height="2" fill="#F0C000"/><rect x="370" y="413" width="10" height="45" fill="#F0C000"/><rect x="371" y="414" width="8" height="44" fill="#F0C000"/><rect x="375" y="456" width="1" height="2" fill="#F0C000"/><rect x="379" y="424" width="11" height="34" fill="#F0C000"/><rect x="380" y="425" width="9" height="33" fill="#009000"/><rect x="384" y="456" width="1" height="2" fill="#F0C000"/><rect x="389" y="456" width="10" height="2" fill="#F0C000"/><rect x="390" y="457" width="8" height="1" fill="#009000"/><rect x="394" y="456" width="1" height="2" fill="#F0C000"/><rect x="398" y="456" width="11" height="2" fill="#F0C000"/><rect x="399" y="457" width="9" height="1" fill="#009000"/><rect x="403" y="456" width="1" height="2" fill="#F0C000"/><rect x="408" y="456" width="10" height="2" fill="#F0C000"/><rect x="409" y="457" width="8" height="1" fill="#009000"/><rect x="413" y="456" width="1" height="2" fill="#F0C000"/><rect x="417" y="456" width="11" height="2" fill="#F0C000"/><rect x="418" y="457" width="9" height="1" fill="#009000"/><rect x="422" y="456" width="1" height="2" fill="#F0C000"/><rect x="427" y="456" width="11" height="2" fill="#F0C000"/><rect x="428" y="457" width="9" height="1" fill="#009000"/><rect x="432" y="456" width="1" height="2" fill="#F0C000"/><rect x="437" y="456" width="10" height="2" fill="#F0C000"/><rect x="438" y="457" width="8" height="1" fill="#009000"/><rect x="441" y="456" width="1" height="2" fill="#F0C000"/><rect x="446" y="456" width="11" height="2" fill="#F0C000"/><rect x="447" y="457" width="9" height="1" fill="#009000"/><rect x="451" y="456" width="1" height="2" fill="#F0C000"/><rect x="456" y="456" width="10" height="2" fill="#F0C000"/><rect x="457" y="457" width="8" height="1" fill="#009000"/><rect x="460" y="456" width="1" height="2" fill="#F0C000"/><rect x="465" y="456" width="11" height="2" fill="#F0C000"/><rect x="466" y="457" width="9" height="1" fill="#009000"/><rect x="470" y="456" width="1" height="2" fill="#F0C000"/><rect x="475" y="456" width="10" height="2" fill="#F0C000"/><rect x="476" y="457" width="8" height="1" fill="#009000"/><rect x="479" y="456" width="1" height="2" fill="#F0C000"/><rect x="484" y="456" width="11" height="2" fill="#F0C000"/><rect x="485" y="457" width="9" height="1" fill="#009000"/><rect x="489" y="456" width="1" height="2" fill="#F0C000"/><rect x="494" y="456" width="10" height="2" fill="#F0C000"/><rect x="495" y="457" width="8" height="1" fill="#009000"/><rect x="498" y="456" width="1" height="2" fill="#F0C000"/><rect x="503" y="456" width="11" height="2" fill="#F0C000"/><rect x="504" y="457" width="9" height="1" fill="#009000"/><rect x="508" y="456" width="1" height="2" fill="#F0C000"/><rect x="513" y="401" width="10" height="57" fill="#F0C000"/><rect x="514" y="402" width="8" height="56" fill="#FF0000"/><rect x="518" y="456" width="1" height="2" fill="#F0C000"/><rect x="522" y="401" width="11" height="57" fill="#F0C000"/><rect x="523" y="402" width="9" height="56" fill="#FF0000"/><rect x="527" y="456" width="1" height="2" fill="#F0C000"/><rect x="532" y="401" width="10" height="57" fill="#F0C000"/><rect x="533" y="402" width="8" height="56" fill="#FF0000"/><rect x="537" y="456" width="1" height="2" fill="#F0C000"/><rect x="541" y="413" width="11" height="45" fill="#F0C000"/><rect x="542" y="414" width="9" height="44" fill="#F0C000"/><rect x="546" y="456" width="1" height="2" fill="#F0C000"/><rect x="551" y="435" width="10" height="23" fill="#F0C000"/><rect x="552" y="436" width="8" height="22" fill="#009000"/><rect x="556" y="456" width="1" height="2" fill="#F0C000"/><rect x="560" y="456" width="11" height="2" fill="#F0C000"/><rect x="561" y="457" width="9" height="1" fill="#009000"/><rect x="565" y="456" width="1" height="2" fill="#F0C000"/><rect x="36" y="458" width="535" height="1" fill="#000"/><path d="M37 379h1v1h-1zM41 379h1v1h-1zM45 379h1v1h-1zM49 379h1v1h-1zM53 379h1v1h-1zM57 379h1v1h-1zM61 379h1v1h-1zM65 379h1v1h-1zM69 379h1v1h-1zM73 379h1v1h-1zM77 379h1v1h-1zM81 379h1v1h-1zM85 379h1v1h-1zM89 379h1v1h-1zM93 379h1v1h-1zM97 379h1v1h-1zM101 379h1v1h-1zM105 379h1v1h-1zM109 379h1v1h-1zM113 379h1v1h-1zM117 379h1v1h-1zM121 379h1v1h-1zM125 379h1v1h-1zM129 379h1v1h-1zM133 379h1v1h-1zM137 379h1v1h-1zM141 379h1v1h-1zM145 379h1v1h-1zM149 379h1v1h-1zM153 379h1v1h-1zM157 379h1v1h-1zM161 379h1v1h-1zM165 379h1v1h-1zM169 379h1v1h-1zM173 379h1v1h-1zM177 379h1v1h-1zM181 379h1v1h-1zM185 379h1v1h-1zM189 379h1v1h-1zM193 379h1v1h-1zM197 379h1v1h-1zM201 379h1v1h-1zM205 379h1v1h-1zM209 379h1v1h-1zM213 379h1v1h-1zM217 379h1v1h-1zM221 379h1v1h-1zM225 379h1v1h-1zM229 379h1v1h-1zM233 379h1v1h-1zM237 379h1v1h-1zM241 379h1v1h-1zM245 379h1v1h-1zM249 379h1v1h-1zM253 379h1v1h-1zM257 379h1v1h-1zM261 379h1v1h-1zM265 379h1v1h-1zM269 379h1v1h-1zM273 379h1v1h-1zM277 379h1v1h-1zM281 379h1v1h-1zM285 379h1v1h-1zM289 379h1v1h-1zM293 379h1v1h-1zM297 379h1v1h-1zM301 379h1v1h-1zM305 379h1v1h-1zM309 379h1v1h-1zM313 379h1v1h-1zM317 379h1v1h-1zM321 379h1v1h-1zM325 379h1v1h-1zM329 379h1v1h-1zM333 379h1v1h-1zM337 379h1v1h-1zM341 379h1v1h-1zM345 379h1v1h-1zM349 379h1v1h-1zM353 379h1v1h-1zM357 379h1v1h-1zM361 379h1v1h-1zM365 379h1v1h-1zM369 379h1v1h-1zM373 379h1v1h-1zM377 379h1v1h-1zM381 379h1v1h-1zM385 379h1v1h-1zM389 379h1v1h-1zM393 379h1v1h-1zM397 379h1v1h-1zM401 379h1v1h-1zM405 379h1v1h-1zM409 379h1v1h-1zM413 379h1v1h-1zM417 379h1v1h-1zM421 379h1v1h-1zM425 379h1v1h-1zM429 379h1v1h-1zM433 379h1v1h-1zM437 379h1v1h-1zM441 379h1v1h-1zM445 379h1v1h-1zM449 379h1v1h-1zM453 379h1v1h-1zM457 379h1v1h-1zM461 379h1v1h-1zM465 379h1v1h-1zM469 379h1v1h-1zM473 379h1v1h-1zM477 379h1v1h-1zM481 379h1v1h-1zM485 379h1v1h-1zM489 379h1v1h-1zM493 379h1v1h-1zM497 379h1v1h-1zM501 379h1v1h-1zM505 379h1v1h-1zM509 379h1v1h-1zM513 379h1v1h-1zM517 379h1v1h-1zM521 379h1v1h-1zM525 379h1v1h-1zM529 379h1v1h-1zM533 379h1v1h-1zM537 379h1v1h-1zM541 379h1v1h-1zM545 379h1v1h-1zM549 379h1v1h-1zM553 379h1v1h-1zM557 379h1v1h-1zM561 379h1v1h-1zM565 379h1v1h-1zM569 379h1v1h-1z" fill="#777"/><path d="M40 401h1v1h-1zM44 401h1v1h-1zM48 401h1v1h-1zM52 401h1v1h-1zM56 401h1v1h-1zM60 401h1v1h-1zM64 401h1v1h-1zM68 401h1v1h-1zM72 401h1v1h-1zM76 401h1v1h-1zM80 401h1v1h-1zM84 401h1v1h-1zM88 401h1v1h-1zM92 401h1v1h-1zM96 401h1v1h-1zM100 401h1v1h-1zM104 401h1v1h-1zM108 401h1v1h-1zM112 401h1v1h-1zM116 401h1v1h-1zM120 401h1v1h-1zM124 401h1v1h-1zM128 401h1v1h-1zM132 401h1v1h-1zM136 401h1v1h-1zM140 401h1v1h-1zM144 401h1v1h-1zM148 401h1v1h-1zM152 401h1v1h-1zM156 401h1v1h-1zM160 401h1v1h-1zM164 401h1v1h-1zM168 401h1v1h-1zM172 401h1v1h-1zM176 401h1v1h-1zM180 401h1v1h-1zM184 401h1v1h-1zM188 401h1v1h-1zM192 401h1v1h-1zM196 401h1v1h-1zM200 401h1v1h-1zM204 401h1v1h-1zM208 401h1v1h-1zM212 401h1v1h-1zM216 401h1v1h-1zM220 401h1v1h-1zM224 401h1v1h-1zM228 401h1v1h-1zM232 401h1v1h-1zM236 401h1v1h-1zM240 401h1v1h-1zM244 401h1v1h-1zM248 401h1v1h-1zM252 401h1v1h-1zM256 401h1v1h-1zM260 401h1v1h-1zM264 401h1v1h-1zM268 401h1v1h-1zM272 401h1v1h-1zM276 401h1v1h-1zM280 401h1v1h-1zM284 401h1v1h-1zM288 401h1v1h-1zM292 401h1v1h-1zM296 401h1v1h-1zM300 401h1v1h-1zM304 401h1v1h-1zM308 401h1v1h-1zM312 401h1v1h-1zM316 401h1v1h-1zM320 401h1v1h-1zM324 401h1v1h-1zM328 401h1v1h-1zM332 401h1v1h-1zM336 401h1v1h-1zM340 401h1v1h-1zM344 401h1v1h-1zM348 401h1v1h-1zM352 401h1v1h-1zM356 401h1v1h-1zM360 401h1v1h-1zM364 401h1v1h-1zM368 401h1v1h-1zM372 401h1v1h-1zM376 401h1v1h-1zM380 401h1v1h-1zM384 401h1v1h-1zM388 401h1v1h-1zM392 401h1v1h-1zM396 401h1v1h-1zM400 401h1v1h-1zM404 401h1v1h-1zM408 401h1v1h-1zM412 401h1v1h-1zM416 401h1v1h-1zM420 401h1v1h-1zM424 401h1v1h-1zM428 401h1v1h-1zM432 401h1v1h-1zM436 401h1v1h-1zM440 401h1v1h-1zM444 401h1v1h-1zM448 401h1v1h-1zM452 401h1v1h-1zM456 401h1v1h-1zM460 401h1v1h-1zM464 401h1v1h-1zM468 401h1v1h-1zM472 401h1v1h-1zM476 401h1v1h-1zM480 401h1v1h-1zM484 401h1v1h-1zM488 401h1v1h-1zM492 401h1v1h-1zM496 401h1v1h-1zM500 401h1v1h-1zM504 401h1v1h-1zM508 401h1v1h-1zM512 401h1v1h-1zM516 401h1v1h-1zM520 401h1v1h-1zM524 401h1v1h-1zM528 401h1v1h-1zM532 401h1v1h-1zM536 401h1v1h-1zM540 401h1v1h-1zM544 401h1v1h-1zM548 401h1v1h-1zM552 401h1v1h-1zM556 401h1v1h-1zM560 401h1v1h-1zM564 401h1v1h-1zM568 401h1v1h-1z" fill="#777"/><path d="M39 413h1v1h-1zM43 413h1v1h-1zM47 413h1v1h-1zM51 413h1v1h-1zM55 413h1v1h-1zM59 413h1v1h-1zM63 413h1v1h-1zM67 413h1v1h-1zM71 413h1v1h-1zM75 413h1v1h-1zM79 413h1v1h-1zM83 413h1v1h-1zM87 413h1v1h-1zM91 413h1v1h-1zM95 413h1v1h-1zM99 413h1v1h-1zM103 413h1v1h-1zM107 413h1v1h-1zM111 413h1v1h-1zM115 413h1v1h-1zM119 413h1v1h-1zM123 413h1v1h-1zM127 413h1v1h-1zM131 413h1v1h-1zM135 413h1v1h-1zM139 413h1v1h-1zM143 413h1v1h-1zM147 413h1v1h-1zM151 413h1v1h-1zM155 413h1v1h-1zM159 413h1v1h-1zM163 413h1v1h-1zM167 413h1v1h-1zM171 413h1v1h-1zM175 413h1v1h-1zM179 413h1v1h-1zM183 413h1v1h-1zM187 413h1v1h-1zM191 413h1v1h-1zM195 413h1v1h-1zM199 413h1v1h-1zM203 413h1v1h-1zM207 413h1v1h-1zM211 413h1v1h-1zM215 413h1v1h-1zM219 413h1v1h-1zM223 413h1v1h-1zM227 413h1v1h-1zM231 413h1v1h-1zM235 413h1v1h-1zM239 413h1v1h-1zM243 413h1v1h-1zM247 413h1v1h-1zM251 413h1v1h-1zM255 413h1v1h-1zM259 413h1v1h-1zM263 413h1v1h-1zM267 413h1v1h-1zM271 413h1v1h-1zM275 413h1v1h-1zM279 413h1v1h-1zM283 413h1v1h-1zM287 413h1v1h-1zM291 413h1v1h-1zM295 413h1v1h-1zM299 413h1v1h-1zM303 413h1v1h-1zM307 413h1v1h-1zM311 413h1v1h-1zM315 413h1v1h-1zM319 413h1v1h-1zM323 413h1v1h-1zM327 413h1v1h-1zM331 413h1v1h-1zM335 413h1v1h-1zM339 413h1v1h-1zM343 413h1v1h-1zM347 413h1v1h-1zM351 413h1v1h-1zM355 413h1v1h-1zM359 413h1v1h-1zM363 413h1v1h-1zM367 413h1v1h-1zM371 413h1v1h-1zM375 413h1v1h-1zM379 413h1v1h-1zM383 413h1v1h-1zM387 413h1v1h-1zM391 413h1v1h-1zM395 413h1v1h-1zM399 413h1v1h-1zM403 413h1v1h-1zM407 413h1v1h-1zM411 413h1v1h-1zM415 413h1v1h-1zM419 413h1v1h-1zM423 413h1v1h-1zM427 413h1v1h-1zM431 413h1v1h-1zM435 413h1v1h-1zM439 413h1v1h-1zM443 413h1v1h-1zM447 413h1v1h-1zM451 413h1v1h-1zM455 413h1v1h-1zM459 413h1v1h-1zM463 413h1v1h-1zM467 413h1v1h-1zM471 413h1v1h-1zM475 413h1v1h-1zM479 413h1v1h-1zM483 413h1v1h-1zM487 413h1v1h-1zM491 413h1v1h-1zM495 413h1v1h-1zM499 413h1v1h-1zM503 413h1v1h-1zM507 413h1v1h-1zM511 413h1v1h-1zM515 413h1v1h-1zM519 413h1v1h-1zM523 413h1v1h-1zM527 413h1v1h-1zM531 413h1v1h-1zM535 413h1v1h-1zM539 413h1v1h-1zM543 413h1v1h-1zM547 413h1v1h-1zM551 413h1v1h-1zM555 413h1v1h-1zM559 413h1v1h-1zM563 413h1v1h-1zM567 413h1v1h-1z" fill="#777"/><path d="M112 358h1v1h-1zM112 362h1v1h-1zM112 366h1v1h-1zM112 370h1v1h-1zM112 374h1v1h-1zM112 378h1v1h-1zM112 382h1v1h-1zM112 386h1v1h-1zM112 390h1v1h-1zM112 394h1v1h-1zM112 398h1v1h-1zM112 402h1v1h-1zM112 406h1v1h-1zM112 410h1v1h-1zM112 414h1v1h-1zM112 418h1v1h-1zM112 422h1v1h-1zM112 426h1v1h-1zM112 430h1v1h-1zM112 434h1v1h-1zM112 438h1v1h-1zM112 442h1v1h-1zM112 446h1v1h-1zM112 450h1v1h-1zM112 454h1v1h-1z" fill="#777"/><rect x="112" y="357" width="1" height="2" fill="#000"/><path d="M189 358h1v1h-1zM189 362h1v1h-1zM189 366h1v1h-1zM189 370h1v1h-1zM189 374h1v1h-1zM189 378h1v1h-1zM189 382h1v1h-1zM189 386h1v1h-1zM189 390h1v1h-1zM189 394h1v1h-1zM189 398h1v1h-1zM189 402h1v1h-1zM189 406h1v1h-1zM189 410h1v1h-1zM189 414h1v1h-1zM189 418h1v1h-1zM189 422h1v1h-1zM189 426h1v1h-1zM189 430h1v1h-1zM189 434h1v1h-1zM189 438h1v1h-1zM189 442h1v1h-1zM189 446h1v1h-1zM189 450h1v1h-1zM189 454h1v1h-1z" fill="#777"/><rect x="189" y="357" width="1" height="2" fill="#000"/><path d="M265 358h1v1h-1zM265 362h1v1h-1zM265 366h1v1h-1zM265 370h1v1h-1zM265 374h1v1h-1zM265 378h1v1h-1zM265 382h1v1h-1zM265 386h1v1h-1zM265 390h1v1h-1zM265 394h1v1h-1zM265 398h1v1h-1zM265 402h1v1h-1zM265 406h1v1h-1zM265 410h1v1h-1zM265 414h1v1h-1zM265 418h1v1h-1zM265 422h1v1h-1zM265 426h1v1h-1zM265 430h1v1h-1zM265 434h1v1h-1zM265 438h1v1h-1zM265 442h1v1h-1zM265 446h1v1h-1zM265 450h1v1h-1zM265 454h1v1h-1z" fill="#777"/><rect x="265" y="357" width="1" height="2" fill="#000"/><path d="M341 358h1v1h-1zM341 362h1v1h-1zM341 366h1v1h-1zM341 370h1v1h-1zM341 374h1v1h-1zM341 378h1v1h-1zM341 382h1v1h-1zM341 386h1v1h-1zM341 390h1v1h-1zM341 394h1v1h-1zM341 398h1v1h-1zM341 402h1v1h-1zM341 406h1v1h-1zM341 410h1v1h-1zM341 414h1v1h-1zM341 418h1v1h-1zM341 422h1v1h-1zM341 426h1v1h-1zM341 430h1v1h-1zM341 434h1v1h-1zM341 438h1v1h-1zM341 442h1v1h-1zM341 446h1v1h-1zM341 450h1v1h-1zM341 454h1v1h-1z" fill="#777"/><rect x="341" y="357" width="1" height="2" fill="#000"/><path d="M417 358h1v1h-1zM417 362h1v1h-1zM417 366h1v1h-1zM417 370h1v1h-1zM417 374h1v1h-1zM417 378h1v1h-1zM417 382h1v1h-1zM417 386h1v1h-1zM417 390h1v1h-1zM417 394h1v1h-1zM417 398h1v1h-1zM417 402h1v1h-1zM417 406h1v1h-1zM417 410h1v1h-1zM417 414h1v1h-1zM417 418h1v1h-1zM417 422h1v1h-1zM417 426h1v1h-1zM417 430h1v1h-1zM417 434h1v1h-1zM417 438h1v1h-1zM417 442h1v1h-1zM417 446h1v1h-1zM417 450h1v1h-1zM417 454h1v1h-1z" fill="#777"/><rect x="417" y="357" width="1" height="2" fill="#000"/><path d="M494 358h1v1h-1zM494 362h1v1h-1zM494 366h1v1h-1zM494 370h1v1h-1zM494 374h1v1h-1zM494 378h1v1h-1zM494 382h1v1h-1zM494 386h1v1h-1zM494 390h1v1h-1zM494 394h1v1h-1zM494 398h1v1h-1zM494 402h1v1h-1zM494 406h1v1h-1zM494 410h1v1h-1zM494 414h1v1h-1zM494 418h1v1h-1zM494 422h1v1h-1zM494 426h1v1h-1zM494 430h1v1h-1zM494 434h1v1h-1zM494 438h1v1h-1zM494 442h1v1h-1zM494 446h1v1h-1zM494 450h1v1h-1zM494 454h1v1h-1z" fill="#777"/><rect x="494" y="357" width="1" height="2" fill="#000"/><path d="M570 358h1v1h-1zM570 362h1v1h-1zM570 366h1v1h-1zM570 370h1v1h-1zM570 374h1v1h-1zM570 378h1v1h-1zM570 382h1v1h-1zM570 386h1v1h-1zM570 390h1v1h-1zM570 394h1v1h-1zM570 398h1v1h-1zM570 402h1v1h-1zM570 406h1v1h-1zM570 410h1v1h-1zM570 414h1v1h-1zM570 418h1v1h-1zM570 422h1v1h-1zM570 426h1v1h-1zM570 430h1v1h-1zM570 434h1v1h-1zM570 438h1v1h-1zM570 442h1v1h-1zM570 446h1v1h-1zM570 450h1v1h-1zM570 454h1v1h-1z" fill="#777"/></g>
<text class="t"><tspan x="0.13" y="14.5" textLength="8.55" lengthAdjust="spacingAndGlyphs">3</tspan><tspan x="9.25" y="13.9" textLength="13.02" lengthAdjust="spacingAndGlyphs">-</tspan><tspan x="22.10" y="14.5" textLength="30.80" lengthAdjust="spacingAndGlyphs">hour</tspan> <tspan style="stroke-width:.3px" x="60.44" y="14.5" textLength="13.82" lengthAdjust="spacingAndGlyphs">K</tspan><tspan x="73.70" y="13.9" textLength="13.03" lengthAdjust="spacingAndGlyphs">-</tspan><tspan x="86.58" y="14.5" textLength="47.88" lengthAdjust="spacingAndGlyphs">indices</tspan> <tspan x="141.41" y="14.5" textLength="18.39" lengthAdjust="spacingAndGlyphs">for</tspan> <tspan x="167.42" y="14.5" textLength="29.94" lengthAdjust="spacingAndGlyphs">Last</tspan> <tspan x="205.60" y="14.5" textLength="10.53" lengthAdjust="spacingAndGlyphs">7</tspan> <tspan x="224.35" y="14.5" textLength="29.96" lengthAdjust="spacingAndGlyphs">days</tspan></text>
<text class="l"><tspan x="269.98" y="14.6" textLength="41.75" lengthAdjust="spacingAndGlyphs">Legend:</tspan></text>
<text class="l"><tspan x="336.55" y="14.6" textLength="5.97" lengthAdjust="spacingAndGlyphs">0</tspan> <tspan x="347.81" y="14.6" textLength="10.72" lengthAdjust="spacingAndGlyphs">to</tspan> <tspan x="364.30" y="14.6" textLength="14.99" lengthAdjust="spacingAndGlyphs">3+</tspan></text>
<text class="l"><tspan x="402.85" y="14.6" textLength="6.62" lengthAdjust="spacingAndGlyphs">4</tspan><tspan x="409.55" y="14.0" textLength="7.91" lengthAdjust="spacingAndGlyphs">-</tspan> <tspan x="422.81" y="14.6" textLength="10.72" lengthAdjust="spacingAndGlyphs">to</tspan> <tspan x="439.36" y="14.6" textLength="15.33" lengthAdjust="spacingAndGlyphs">4+</tspan></text>
<text class="l"><tspan x="474.21" y="14.6" textLength="7.79" lengthAdjust="spacingAndGlyphs">5</tspan><tspan x="481.55" y="14.0" textLength="7.91" lengthAdjust="spacingAndGlyphs">-</tspan> <tspan x="494.81" y="14.6" textLength="10.72" lengthAdjust="spacingAndGlyphs">to</tspan> <tspan x="510.98" y="14.6" textLength="15.17" lengthAdjust="spacingAndGlyphs">6+</tspan></text>
<text class="l"><tspan x="546.35" y="14.6" textLength="7.65" lengthAdjust="spacingAndGlyphs">7</tspan><tspan x="553.55" y="14.0" textLength="7.91" lengthAdjust="spacingAndGlyphs">-</tspan> <tspan x="566.80" y="14.6" textLength="10.73" lengthAdjust="spacingAndGlyphs">to</tspan> <tspan x="582.35" y="14.6" textLength="7.34" lengthAdjust="spacingAndGlyphs">9</tspan></text>
<text class="x"><tspan x="17.00" y="472.8" textLength="19.37" lengthAdjust="spacingAndGlyphs">Nov</tspan> <tspan x="41.39" y="472.8" textLength="14.41" lengthAdjust="spacingAndGlyphs">05</tspan></text>
<text class="x"><tspan x="93.75" y="472.8" textLength="19.18" lengthAdjust="spacingAndGlyphs">Nov</tspan> <tspan x="117.81" y="472.8" textLength="13.76" lengthAdjust="spacingAndGlyphs">06</tspan></text>
<text class="x"><tspan x="169.88" y="472.8" textLength="18.84" lengthAdjust="spacingAndGlyphs">Nov</tspan> <tspan x="194.07" y="472.8" textLength="14.28" lengthAdjust="spacingAndGlyphs">07</tspan></text>
<text class="x"><tspan x="245.85" y="472.8" textLength="19.29" lengthAdjust="spacingAndGlyphs">Nov</tspan> <tspan x="270.16" y="472.8" textLength="14.03" lengthAdjust="spacingAndGlyphs">08</tspan></text>
<text class="x"><tspan x="322.46" y="472.8" textLength="19.02" lengthAdjust="spacingAndGlyphs">Nov</tspan> <tspan x="346.64" y="472.8" textLength="13.66" lengthAdjust="spacingAndGlyphs">09</tspan></text>
<text class="x"><tspan x="398.76" y="472.8" textLength="18.81" lengthAdjust="spacingAndGlyphs">Nov</tspan> <tspan x="422.55" y="472.8" textLength="14.47" lengthAdjust="spacingAndGlyphs">10</tspan></text>
<text class="x"><tspan x="475.14" y="472.8" textLength="18.74" lengthAdjust="spacingAndGlyphs">Nov</tspan> <tspan x="498.78" y="472.8" textLength="14.63" lengthAdjust="spacingAndGlyphs">11</tspan></text>
<text class="x"><tspan x="551.00" y="472.8" textLength="19.37" lengthAdjust="spacingAndGlyphs">Nov</tspan> <tspan x="574.95" y="472.8" textLength="14.56" lengthAdjust="spacingAndGlyphs">12</tspan></text>
<text class="m"><tspan x="193.07" y="489.6" textLength="68.58" lengthAdjust="spacingAndGlyphs">Coordinate</tspan> <tspan x="269.17" y="489.6" textLength="63.49" lengthAdjust="spacingAndGlyphs">Universal</tspan> <tspan x="339.66" y="489.6" textLength="25.47" lengthAdjust="spacingAndGlyphs">Time</tspan> <tspan x="370.84" y="489.6" textLength="37.79" lengthAdjust="spacingAndGlyphs">(UTC)</tspan></text>
<text class="u"><tspan x="1.29" y="503.6" textLength="58.45" lengthAdjust="spacingAndGlyphs">Updated</tspan></text>
<text class="m"><tspan x="65.95" y="504.0" textLength="33.63" lengthAdjust="spacingAndGlyphs">2022</tspan> <tspan x="106.33" y="504.0" textLength="21.81" lengthAdjust="spacingAndGlyphs">Nov</tspan> <tspan x="134.46" y="504.0" textLength="16.95" lengthAdjust="spacingAndGlyphs">11</tspan> <tspan x="161.12" y="504.0" textLength="33.13" lengthAdjust="spacingAndGlyphs">2130</tspan></text>
<text class="m"><tspan x="402.77" y="504.2" textLength="80.32" lengthAdjust="spacingAndGlyphs">NOAA/SWPC</tspan> <tspan x="490.41" y="504.2" textLength="52.51" lengthAdjust="spacingAndGlyphs">Boulder,</tspan> <tspan x="549.95" y="504.2" textLength="18.31" lengthAdjust="spacingAndGlyphs">CO</tspan> <tspan x="575.95" y="504.2" textLength="23.45" lengthAdjust="spacingAndGlyphs">USA</tspan></text>
<text class="y" transform="rotate(-90)"><tspan x="-97.16" y="13.3" textLength="44.88" lengthAdjust="spacingAndGlyphs">Boulder</tspan></text>
<text class="y" transform="rotate(-90)"><tspan x="-223.44" y="13.3" textLength="80.26" lengthAdjust="spacingAndGlyphs">Fredericksburg</tspan></text>
<text class="y" transform="rotate(-90)"><tspan x="-342.22" y="13.3" textLength="20.24" lengthAdjust="spacingAndGlyphs">Est.</tspan> <tspan x="-317.56" y="13.3" textLength="59.21" lengthAdjust="spacingAndGlyphs">Planetary</tspan></text>
<text class="y" transform="rotate(-90)"><tspan x="-428.09" y="13.3" textLength="42.00" lengthAdjust="spacingAndGlyphs">College</tspan></text>
<text class="s"><tspan x="27.35" y="122.5" textLength="6.27" lengthAdjust="spacingAndGlyphs">0</tspan></text>
<text class="s"><tspan x="26.84" y="114.16666666666667" textLength="7.23" lengthAdjust="spacingAndGlyphs">1</tspan></text>
<text class="s"><tspan x="27.52" y="102.83333333333333" textLength="6.47" lengthAdjust="spacingAndGlyphs">2</tspan></text>
<text class="s"><tspan x="27.49" y="91.5" textLength="6.40" lengthAdjust="spacingAndGlyphs">3</tspan></text>
<text class="s"><tspan x="27.91" y="80.16666666666667" textLength="5.82" lengthAdjust="spacingAndGlyphs">4</tspan></text>
<text class="s"><tspan x="27.10" y="68.83333333333333" textLength="7.00" lengthAdjust="spacingAndGlyphs">5</tspan></text>
<text class="s"><tspan x="27.38" y="57.5" textLength="6.44" lengthAdjust="spacingAndGlyphs">6</tspan></text>
<text class="s"><tspan x="27.34" y="46.16666666666667" textLength="6.52" lengthAdjust="spacingAndGlyphs">7</tspan></text>
<text class="s"><tspan x="27.12" y="34.83333333333333" textLength="6.85" lengthAdjust="spacingAndGlyphs">8</tspan></text>
<text class="s"><tspan x="27.34" y="25.9" textLength="6.52" lengthAdjust="spacingAndGlyphs">9</tspan></text>
<text class="s"><tspan x="27.35" y="235.5" textLength="6.27" lengthAdjust="spacingAndGlyphs">0</tspan></text>
<text class="s"><tspan x="26.84" y="226.56666666666663" textLength="7.23" lengthAdjust="spacingAndGlyphs">1</tspan></text>
<text class="s"><tspan x="27.52" y="215.23333333333332" textLength="6.47" lengthAdjust="spacingAndGlyphs">2</tspan></text>
<text class="s"><tspan x="27.49" y="203.89999999999998" textLength="6.40" lengthAdjust="spacingAndGlyphs">3</tspan></text>
<text class="s"><tspan x="27.91" y="192.56666666666663" textLength="5.82" lengthAdjust="spacingAndGlyphs">4</tspan></text>
<text class="s"><tspan x="27.10" y="181.23333333333332" textLength="7.00" lengthAdjust="spacingAndGlyphs">5</tspan></text>
<text class="s"><tspan x="27.38" y="169.89999999999998" textLength="6.44" lengthAdjust="spacingAndGlyphs">6</tspan></text>
<text class="s"><tspan x="27.34" y="158.56666666666666" textLength="6.52" lengthAdjust="spacingAndGlyphs">7</tspan></text>
<text class="s"><tspan x="27.12" y="147.2333333333333" textLength="6.85" lengthAdjust="spacingAndGlyphs">8</tspan></text>
<text class="s"><tspan x="27.34" y="138.9" textLength="6.52" lengthAdjust="spacingAndGlyphs">9</tspan></text>
<text class="s"><tspan x="27.35" y="347.5" textLength="6.27" lengthAdjust="spacingAndGlyphs">0</tspan></text>
<text class="s"><tspan x="26.84" y="338.69666666666666" textLength="7.23" lengthAdjust="spacingAndGlyphs">1</tspan></text>
<text class="s"><tspan x="27.52" y="327.3633333333333" textLength="6.47" lengthAdjust="spacingAndGlyphs">2</tspan></text>
<text class="s"><tspan x="27.49" y="316.03" textLength="6.40" lengthAdjust="spacingAndGlyphs">3</tspan></text>
<text class="s"><tspan x="27.91" y="304.69666666666666" textLength="5.82" lengthAdjust="spacingAndGlyphs">4</tspan></text>
<text class="s"><tspan x="27.10" y="293.3633333333333" textLength="7.00" lengthAdjust="spacingAndGlyphs">5</tspan></text>
<text class="s"><tspan x="27.38" y="282.03" textLength="6.44" lengthAdjust="spacingAndGlyphs">6</tspan></text>
<text class="s"><tspan x="27.34" y="270.69666666666666" textLength="6.52" lengthAdjust="spacingAndGlyphs">7</tspan></text>
<text class="s"><tspan x="27.12" y="259.3633333333333" textLength="6.85" lengthAdjust="spacingAndGlyphs">8</tspan></text>
<text class="s"><tspan x="27.34" y="250.9" textLength="6.52" lengthAdjust="spacingAndGlyphs">9</tspan></text>
<text class="s"><tspan x="27.35" y="459.5" textLength="6.27" lengthAdjust="spacingAndGlyphs">0</tspan></text>
<text class="s"><tspan x="26.84" y="450.8666666666667" textLength="7.23" lengthAdjust="spacingAndGlyphs">1</tspan></text>
<text class="s"><tspan x="27.52" y="439.5333333333333" textLength="6.47" lengthAdjust="spacingAndGlyphs">2</tspan></text>
<text class="s"><tspan x="27.49" y="428.2" textLength="6.40" lengthAdjust="spacingAndGlyphs">3</tspan></text>
<text class="s"><tspan x="27.91" y="416.8666666666667" textLength="5.82" lengthAdjust="spacingAndGlyphs">4</tspan></text>
<text class="s"><tspan x="27.10" y="405.5333333333333" textLength="7.00" lengthAdjust="spacingAndGlyphs">5</tspan></text>
<text class="s"><tspan x="27.38" y="394.2" textLength="6.44" lengthAdjust="spacingAndGlyphs">6</tspan></text>
<text class="s"><tspan x="27.34" y="382.8666666666667" textLength="6.52" lengthAdjust="spacingAndGlyphs">7</tspan></text>
<text class="s"><tspan x="27.12" y="371.5333333333333" textLength="6.85" lengthAdjust="spacingAndGlyphs">8</tspan></text>
<text class="s"><tspan x="27.34" y="362.9" textLength="6.52" lengthAdjust="spacingAndGlyphs">9</tspan></text>
</svg></body></html>
